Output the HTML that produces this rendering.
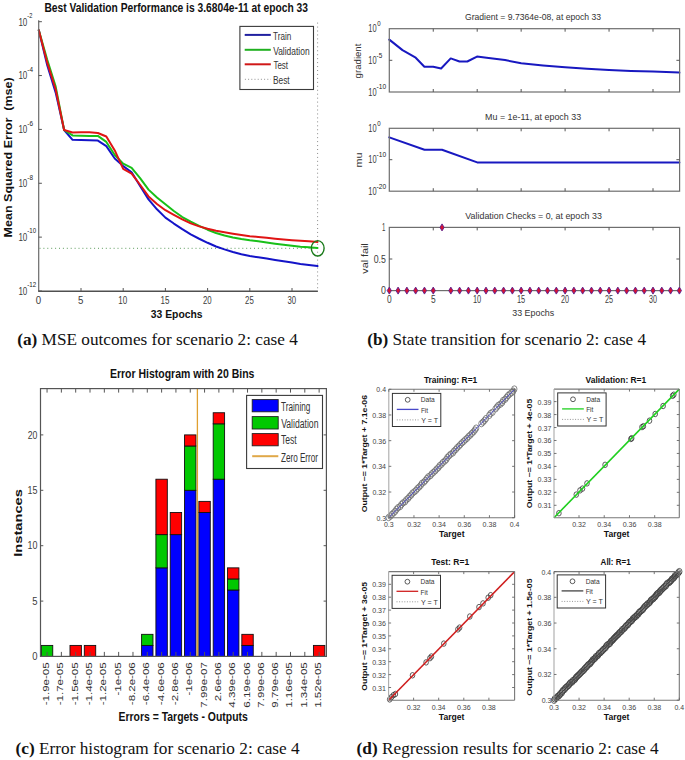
<!DOCTYPE html>
<html><head><meta charset="utf-8"><style>
html,body{margin:0;padding:0;background:#fff;}
body{width:685px;height:760px;overflow:hidden;}
svg{display:block;font-family:"Liberation Sans", sans-serif;}
</style></head><body>
<svg width="685" height="760" viewBox="0 0 685 760">
<rect width="685" height="760" fill="#fff"/>
<line x1="39.5" y1="248.3" x2="317.5" y2="248.3" stroke="#5a9a5a" stroke-width="1" stroke-dasharray="1 2.9"/>
<line x1="317.6" y1="22.6" x2="317.6" y2="291" stroke="#8a8a8a" stroke-width="1" stroke-dasharray="1 2.95"/>
<polyline points="38.8,30.3 47.24,65.16 55.68,92.62 64.12,130.02 72.56,139.81 81,140 89.44,140.19 97.88,140.59 106.32,146.19 114.76,158.46 123.2,166.12 131.64,172.3 140.08,186.03 148.52,199.37 156.96,209.29 165.4,217.59 173.84,223.55 182.28,229.2 190.72,234.4 199.16,238.76 207.6,242.78 216.04,246.46 224.48,249.42 232.92,252.06 241.36,254.31 249.8,256.04 258.24,257.25 266.68,258.58 275.12,259.95 283.56,261.29 292,262.61 300.44,263.93 308.88,265.01 317.5,266.1" fill="none" stroke="#1414c8" stroke-width="2" stroke-linejoin="round" stroke-linecap="round" />
<polyline points="38.8,30.3 47.24,59.79 55.68,86.67 64.12,130.02 72.56,135.44 81,135.66 89.44,135.89 97.88,135.9 106.32,141.93 114.76,155.04 123.2,163.62 131.64,167.79 140.08,178.07 148.52,189.62 156.96,197.42 165.4,204.26 173.84,210.96 182.28,217.05 190.72,221.66 199.16,225.9 207.6,229.7 216.04,233.01 224.48,235.54 232.92,237.42 241.36,238.96 249.8,240.25 258.24,241.29 266.68,242.45 275.12,243.65 283.56,244.75 292,245.7 300.44,246.65 308.88,247.32 317.5,248" fill="none" stroke="#18c018" stroke-width="2" stroke-linejoin="round" stroke-linecap="round" />
<polyline points="38.8,30.3 47.24,62.67 55.68,89.54 64.12,130.02 72.56,132.54 81,132.37 89.44,132.21 97.88,132.99 106.32,136.48 114.76,150.45 123.2,168.88 131.64,173.66 140.08,184.77 148.52,196.42 156.96,204.01 165.4,210.19 173.84,214.86 182.28,219.39 190.72,223.43 199.16,226.39 207.6,228.81 216.04,230.79 224.48,232.3 232.92,233.66 241.36,234.93 249.8,236.16 258.24,236.94 266.68,237.82 275.12,238.73 283.56,239.53 292,240.15 300.44,240.77 308.88,241.33 317.5,241.9" fill="none" stroke="#e01414" stroke-width="2" stroke-linejoin="round" stroke-linecap="round" />
<ellipse cx="317.7" cy="248.3" rx="6.4" ry="7.7" fill="none" stroke="#1a7a1a" stroke-width="1.4"/>
<line x1="38.7" y1="20.2" x2="38.7" y2="291.3" stroke="#6a6a6a" stroke-width="1.2" />
<line x1="38.2" y1="291.3" x2="317.9" y2="291.3" stroke="#505050" stroke-width="1.6" />
<line x1="38.7" y1="21.7" x2="41.9" y2="21.7" stroke="#555" stroke-width="1" />
<line x1="38.7" y1="75.56" x2="41.9" y2="75.56" stroke="#555" stroke-width="1" />
<line x1="38.7" y1="129.42" x2="41.9" y2="129.42" stroke="#555" stroke-width="1" />
<line x1="38.7" y1="183.28" x2="41.9" y2="183.28" stroke="#555" stroke-width="1" />
<line x1="38.7" y1="237.14" x2="41.9" y2="237.14" stroke="#555" stroke-width="1" />
<line x1="38.7" y1="291" x2="41.9" y2="291" stroke="#555" stroke-width="1" />
<line x1="81" y1="291.3" x2="81" y2="288" stroke="#555" stroke-width="1" />
<line x1="123.2" y1="291.3" x2="123.2" y2="288" stroke="#555" stroke-width="1" />
<line x1="165.4" y1="291.3" x2="165.4" y2="288" stroke="#555" stroke-width="1" />
<line x1="207.6" y1="291.3" x2="207.6" y2="288" stroke="#555" stroke-width="1" />
<line x1="249.8" y1="291.3" x2="249.8" y2="288" stroke="#555" stroke-width="1" />
<line x1="292" y1="291.3" x2="292" y2="288" stroke="#555" stroke-width="1" />
<text x="18.4" y="25.5" font-size="11.3" font-weight="normal" fill="#3c3c3c" textLength="8.94" lengthAdjust="spacingAndGlyphs" style="font-family:'Liberation Sans', sans-serif" >10</text>
<text x="27.35" y="18" font-size="7.8" font-weight="normal" fill="#222" textLength="5.03" lengthAdjust="spacingAndGlyphs" style="font-family:'Liberation Sans', sans-serif" >-2</text>
<text x="18.4" y="79.36" font-size="11.3" font-weight="normal" fill="#3c3c3c" textLength="8.94" lengthAdjust="spacingAndGlyphs" style="font-family:'Liberation Sans', sans-serif" >10</text>
<text x="27.31" y="71.86" font-size="7.8" font-weight="normal" fill="#222" textLength="5.67" lengthAdjust="spacingAndGlyphs" style="font-family:'Liberation Sans', sans-serif" >-4</text>
<text x="18.4" y="133.22" font-size="11.3" font-weight="normal" fill="#3c3c3c" textLength="8.94" lengthAdjust="spacingAndGlyphs" style="font-family:'Liberation Sans', sans-serif" >10</text>
<text x="27.31" y="125.72" font-size="7.8" font-weight="normal" fill="#222" textLength="5.67" lengthAdjust="spacingAndGlyphs" style="font-family:'Liberation Sans', sans-serif" >-6</text>
<text x="18.4" y="187.08" font-size="11.3" font-weight="normal" fill="#3c3c3c" textLength="8.94" lengthAdjust="spacingAndGlyphs" style="font-family:'Liberation Sans', sans-serif" >10</text>
<text x="27.31" y="179.58" font-size="7.8" font-weight="normal" fill="#222" textLength="5.63" lengthAdjust="spacingAndGlyphs" style="font-family:'Liberation Sans', sans-serif" >-8</text>
<text x="18.4" y="240.94" font-size="11.3" font-weight="normal" fill="#3c3c3c" textLength="8.94" lengthAdjust="spacingAndGlyphs" style="font-family:'Liberation Sans', sans-serif" >10</text>
<text x="27.33" y="233.44" font-size="7.8" font-weight="normal" fill="#222" textLength="8.82" lengthAdjust="spacingAndGlyphs" style="font-family:'Liberation Sans', sans-serif" >-10</text>
<text x="18.4" y="294.8" font-size="11.3" font-weight="normal" fill="#3c3c3c" textLength="8.94" lengthAdjust="spacingAndGlyphs" style="font-family:'Liberation Sans', sans-serif" >10</text>
<text x="27.32" y="287.3" font-size="7.8" font-weight="normal" fill="#222" textLength="8.89" lengthAdjust="spacingAndGlyphs" style="font-family:'Liberation Sans', sans-serif" >-12</text>
<text x="35.81" y="303.8" font-size="10.6" font-weight="normal" fill="#3c3c3c" textLength="5.39" lengthAdjust="spacingAndGlyphs" style="font-family:'Liberation Sans', sans-serif" >0</text>
<text x="78.01" y="303.8" font-size="10.6" font-weight="normal" fill="#3c3c3c" textLength="5.39" lengthAdjust="spacingAndGlyphs" style="font-family:'Liberation Sans', sans-serif" >5</text>
<text x="118.3" y="303.8" font-size="10.6" font-weight="normal" fill="#3c3c3c" textLength="8.94" lengthAdjust="spacingAndGlyphs" style="font-family:'Liberation Sans', sans-serif" >10</text>
<text x="160.5" y="303.8" font-size="10.6" font-weight="normal" fill="#3c3c3c" textLength="8.94" lengthAdjust="spacingAndGlyphs" style="font-family:'Liberation Sans', sans-serif" >15</text>
<text x="202.91" y="303.8" font-size="10.6" font-weight="normal" fill="#3c3c3c" textLength="8.72" lengthAdjust="spacingAndGlyphs" style="font-family:'Liberation Sans', sans-serif" >20</text>
<text x="245.11" y="303.8" font-size="10.6" font-weight="normal" fill="#3c3c3c" textLength="8.72" lengthAdjust="spacingAndGlyphs" style="font-family:'Liberation Sans', sans-serif" >25</text>
<text x="287.39" y="303.8" font-size="10.6" font-weight="normal" fill="#3c3c3c" textLength="8.64" lengthAdjust="spacingAndGlyphs" style="font-family:'Liberation Sans', sans-serif" >30</text>
<text x="44.43" y="11.7" font-size="12" font-weight="bold" fill="#111" textLength="263.52" lengthAdjust="spacingAndGlyphs" style="font-family:'Liberation Sans', sans-serif" >Best Validation Performance is 3.6804e-11 at epoch 33</text>
<text x="150.84" y="318.3" font-size="10.8" font-weight="bold" fill="#111" textLength="51.79" lengthAdjust="spacingAndGlyphs" style="font-family:'Liberation Sans', sans-serif" >33 Epochs</text>
<text transform="translate(11.8,236.6) scale(0.84,1) rotate(-90)" x="-0.81" y="0" font-size="12.2" font-weight="bold" fill="#111" textLength="160.1" lengthAdjust="spacingAndGlyphs">Mean Squared Error  (mse)</text>
<rect x="239.9" y="26.4" width="73.6" height="63.1" fill="#fff" stroke="#3a3a3a" stroke-width="1.1" />
<line x1="244.7" y1="34.9" x2="270.8" y2="34.9" stroke="#2020a0" stroke-width="2" />
<line x1="244.7" y1="49.8" x2="270.8" y2="49.8" stroke="#20b020" stroke-width="2" />
<line x1="244.7" y1="64.3" x2="270.8" y2="64.3" stroke="#d01818" stroke-width="2" />
<line x1="244.9" y1="79.3" x2="270.8" y2="79.3" stroke="#909090" stroke-width="1" stroke-dasharray="1 2.2"/>
<text x="273" y="39.6" font-size="10.6" font-weight="normal" fill="#333" textLength="18.24" lengthAdjust="spacingAndGlyphs" style="font-family:'Liberation Sans', sans-serif" >Train</text>
<text x="273.16" y="54.5" font-size="10.6" font-weight="normal" fill="#333" textLength="36.42" lengthAdjust="spacingAndGlyphs" style="font-family:'Liberation Sans', sans-serif" >Validation</text>
<text x="273.4" y="68.6" font-size="10.6" font-weight="normal" fill="#333" textLength="14.67" lengthAdjust="spacingAndGlyphs" style="font-family:'Liberation Sans', sans-serif" >Test</text>
<text x="272.93" y="83.6" font-size="10.6" font-weight="normal" fill="#333" textLength="16.72" lengthAdjust="spacingAndGlyphs" style="font-family:'Liberation Sans', sans-serif" >Best</text>
<polyline points="389.3,39.6 402.5,50.1 415.7,57.7 424.4,66.8 433.2,66.8 441.1,68.5 450.7,58.4 459.5,61.5 467.3,61.5 477,56.6 486.6,57.7 505,60.1 521.2,63.3 543,65.5 565.1,67.3 587,68.8 609,70 631,70.9 653,71.6 679.4,72.6" fill="none" stroke="#1818c0" stroke-width="2" stroke-linejoin="round" stroke-linecap="round" />
<polyline points="389.3,137.4 424.5,149.7 442,149.7 477.2,162.4 679.4,162.4" fill="none" stroke="#1818c0" stroke-width="2" stroke-linejoin="round" stroke-linecap="round" />
<rect x="389.3" y="28.7" width="290.3" height="63.3" fill="none" stroke="#6e6e6e" stroke-width="1.2" />
<line x1="433.25" y1="28.7" x2="433.25" y2="31.7" stroke="#555" stroke-width="1" />
<line x1="433.25" y1="92" x2="433.25" y2="89" stroke="#555" stroke-width="1" />
<line x1="477.2" y1="28.7" x2="477.2" y2="31.7" stroke="#555" stroke-width="1" />
<line x1="477.2" y1="92" x2="477.2" y2="89" stroke="#555" stroke-width="1" />
<line x1="521.15" y1="28.7" x2="521.15" y2="31.7" stroke="#555" stroke-width="1" />
<line x1="521.15" y1="92" x2="521.15" y2="89" stroke="#555" stroke-width="1" />
<line x1="565.1" y1="28.7" x2="565.1" y2="31.7" stroke="#555" stroke-width="1" />
<line x1="565.1" y1="92" x2="565.1" y2="89" stroke="#555" stroke-width="1" />
<line x1="609.05" y1="28.7" x2="609.05" y2="31.7" stroke="#555" stroke-width="1" />
<line x1="609.05" y1="92" x2="609.05" y2="89" stroke="#555" stroke-width="1" />
<line x1="653" y1="28.7" x2="653" y2="31.7" stroke="#555" stroke-width="1" />
<line x1="653" y1="92" x2="653" y2="89" stroke="#555" stroke-width="1" />
<line x1="389.3" y1="60.3" x2="392.3" y2="60.3" stroke="#555" stroke-width="1" />
<line x1="679.6" y1="60.3" x2="676.4" y2="60.3" stroke="#555" stroke-width="1" />
<rect x="389.3" y="128.3" width="290.3" height="62.9" fill="none" stroke="#6e6e6e" stroke-width="1.2" />
<line x1="433.25" y1="128.3" x2="433.25" y2="131.3" stroke="#555" stroke-width="1" />
<line x1="433.25" y1="191.2" x2="433.25" y2="188.2" stroke="#555" stroke-width="1" />
<line x1="477.2" y1="128.3" x2="477.2" y2="131.3" stroke="#555" stroke-width="1" />
<line x1="477.2" y1="191.2" x2="477.2" y2="188.2" stroke="#555" stroke-width="1" />
<line x1="521.15" y1="128.3" x2="521.15" y2="131.3" stroke="#555" stroke-width="1" />
<line x1="521.15" y1="191.2" x2="521.15" y2="188.2" stroke="#555" stroke-width="1" />
<line x1="565.1" y1="128.3" x2="565.1" y2="131.3" stroke="#555" stroke-width="1" />
<line x1="565.1" y1="191.2" x2="565.1" y2="188.2" stroke="#555" stroke-width="1" />
<line x1="609.05" y1="128.3" x2="609.05" y2="131.3" stroke="#555" stroke-width="1" />
<line x1="609.05" y1="191.2" x2="609.05" y2="188.2" stroke="#555" stroke-width="1" />
<line x1="653" y1="128.3" x2="653" y2="131.3" stroke="#555" stroke-width="1" />
<line x1="653" y1="191.2" x2="653" y2="188.2" stroke="#555" stroke-width="1" />
<line x1="389.3" y1="159.7" x2="392.3" y2="159.7" stroke="#555" stroke-width="1" />
<line x1="679.6" y1="159.7" x2="676.4" y2="159.7" stroke="#555" stroke-width="1" />
<rect x="389.3" y="227.4" width="290.3" height="63.2" fill="none" stroke="#6e6e6e" stroke-width="1.2" />
<line x1="433.25" y1="227.4" x2="433.25" y2="230.4" stroke="#555" stroke-width="1" />
<line x1="433.25" y1="290.6" x2="433.25" y2="287.6" stroke="#555" stroke-width="1" />
<line x1="477.2" y1="227.4" x2="477.2" y2="230.4" stroke="#555" stroke-width="1" />
<line x1="477.2" y1="290.6" x2="477.2" y2="287.6" stroke="#555" stroke-width="1" />
<line x1="521.15" y1="227.4" x2="521.15" y2="230.4" stroke="#555" stroke-width="1" />
<line x1="521.15" y1="290.6" x2="521.15" y2="287.6" stroke="#555" stroke-width="1" />
<line x1="565.1" y1="227.4" x2="565.1" y2="230.4" stroke="#555" stroke-width="1" />
<line x1="565.1" y1="290.6" x2="565.1" y2="287.6" stroke="#555" stroke-width="1" />
<line x1="609.05" y1="227.4" x2="609.05" y2="230.4" stroke="#555" stroke-width="1" />
<line x1="609.05" y1="290.6" x2="609.05" y2="287.6" stroke="#555" stroke-width="1" />
<line x1="653" y1="227.4" x2="653" y2="230.4" stroke="#555" stroke-width="1" />
<line x1="653" y1="290.6" x2="653" y2="287.6" stroke="#555" stroke-width="1" />
<line x1="389.3" y1="259" x2="392.3" y2="259" stroke="#555" stroke-width="1" />
<line x1="679.6" y1="259" x2="676.4" y2="259" stroke="#555" stroke-width="1" />
<path d="M389.3,287.1 L391.4,290.6 L389.3,294.1 L387.2,290.6 Z" fill="#d81030" stroke="#5a2090" stroke-width="0.9"/>
<path d="M398.09,287.1 L400.19,290.6 L398.09,294.1 L395.99,290.6 Z" fill="#d81030" stroke="#5a2090" stroke-width="0.9"/>
<path d="M406.88,287.1 L408.98,290.6 L406.88,294.1 L404.78,290.6 Z" fill="#d81030" stroke="#5a2090" stroke-width="0.9"/>
<path d="M415.67,287.1 L417.77,290.6 L415.67,294.1 L413.57,290.6 Z" fill="#d81030" stroke="#5a2090" stroke-width="0.9"/>
<path d="M424.46,287.1 L426.56,290.6 L424.46,294.1 L422.36,290.6 Z" fill="#d81030" stroke="#5a2090" stroke-width="0.9"/>
<path d="M433.25,287.1 L435.35,290.6 L433.25,294.1 L431.15,290.6 Z" fill="#d81030" stroke="#5a2090" stroke-width="0.9"/>
<path d="M442.04,223.9 L444.14,227.4 L442.04,230.9 L439.94,227.4 Z" fill="#d81030" stroke="#5a2090" stroke-width="0.9"/>
<path d="M450.83,287.1 L452.93,290.6 L450.83,294.1 L448.73,290.6 Z" fill="#d81030" stroke="#5a2090" stroke-width="0.9"/>
<path d="M459.62,287.1 L461.72,290.6 L459.62,294.1 L457.52,290.6 Z" fill="#d81030" stroke="#5a2090" stroke-width="0.9"/>
<path d="M468.41,287.1 L470.51,290.6 L468.41,294.1 L466.31,290.6 Z" fill="#d81030" stroke="#5a2090" stroke-width="0.9"/>
<path d="M477.2,287.1 L479.3,290.6 L477.2,294.1 L475.1,290.6 Z" fill="#d81030" stroke="#5a2090" stroke-width="0.9"/>
<path d="M485.99,287.1 L488.09,290.6 L485.99,294.1 L483.89,290.6 Z" fill="#d81030" stroke="#5a2090" stroke-width="0.9"/>
<path d="M494.78,287.1 L496.88,290.6 L494.78,294.1 L492.68,290.6 Z" fill="#d81030" stroke="#5a2090" stroke-width="0.9"/>
<path d="M503.57,287.1 L505.67,290.6 L503.57,294.1 L501.47,290.6 Z" fill="#d81030" stroke="#5a2090" stroke-width="0.9"/>
<path d="M512.36,287.1 L514.46,290.6 L512.36,294.1 L510.26,290.6 Z" fill="#d81030" stroke="#5a2090" stroke-width="0.9"/>
<path d="M521.15,287.1 L523.25,290.6 L521.15,294.1 L519.05,290.6 Z" fill="#d81030" stroke="#5a2090" stroke-width="0.9"/>
<path d="M529.94,287.1 L532.04,290.6 L529.94,294.1 L527.84,290.6 Z" fill="#d81030" stroke="#5a2090" stroke-width="0.9"/>
<path d="M538.73,287.1 L540.83,290.6 L538.73,294.1 L536.63,290.6 Z" fill="#d81030" stroke="#5a2090" stroke-width="0.9"/>
<path d="M547.52,287.1 L549.62,290.6 L547.52,294.1 L545.42,290.6 Z" fill="#d81030" stroke="#5a2090" stroke-width="0.9"/>
<path d="M556.31,287.1 L558.41,290.6 L556.31,294.1 L554.21,290.6 Z" fill="#d81030" stroke="#5a2090" stroke-width="0.9"/>
<path d="M565.1,287.1 L567.2,290.6 L565.1,294.1 L563,290.6 Z" fill="#d81030" stroke="#5a2090" stroke-width="0.9"/>
<path d="M573.89,287.1 L575.99,290.6 L573.89,294.1 L571.79,290.6 Z" fill="#d81030" stroke="#5a2090" stroke-width="0.9"/>
<path d="M582.68,287.1 L584.78,290.6 L582.68,294.1 L580.58,290.6 Z" fill="#d81030" stroke="#5a2090" stroke-width="0.9"/>
<path d="M591.47,287.1 L593.57,290.6 L591.47,294.1 L589.37,290.6 Z" fill="#d81030" stroke="#5a2090" stroke-width="0.9"/>
<path d="M600.26,287.1 L602.36,290.6 L600.26,294.1 L598.16,290.6 Z" fill="#d81030" stroke="#5a2090" stroke-width="0.9"/>
<path d="M609.05,287.1 L611.15,290.6 L609.05,294.1 L606.95,290.6 Z" fill="#d81030" stroke="#5a2090" stroke-width="0.9"/>
<path d="M617.84,287.1 L619.94,290.6 L617.84,294.1 L615.74,290.6 Z" fill="#d81030" stroke="#5a2090" stroke-width="0.9"/>
<path d="M626.63,287.1 L628.73,290.6 L626.63,294.1 L624.53,290.6 Z" fill="#d81030" stroke="#5a2090" stroke-width="0.9"/>
<path d="M635.42,287.1 L637.52,290.6 L635.42,294.1 L633.32,290.6 Z" fill="#d81030" stroke="#5a2090" stroke-width="0.9"/>
<path d="M644.21,287.1 L646.31,290.6 L644.21,294.1 L642.11,290.6 Z" fill="#d81030" stroke="#5a2090" stroke-width="0.9"/>
<path d="M653,287.1 L655.1,290.6 L653,294.1 L650.9,290.6 Z" fill="#d81030" stroke="#5a2090" stroke-width="0.9"/>
<path d="M661.79,287.1 L663.89,290.6 L661.79,294.1 L659.69,290.6 Z" fill="#d81030" stroke="#5a2090" stroke-width="0.9"/>
<path d="M670.58,287.1 L672.68,290.6 L670.58,294.1 L668.48,290.6 Z" fill="#d81030" stroke="#5a2090" stroke-width="0.9"/>
<path d="M679.37,287.1 L681.47,290.6 L679.37,294.1 L677.27,290.6 Z" fill="#d81030" stroke="#5a2090" stroke-width="0.9"/>
<text x="368.34" y="32.4" font-size="10.2" font-weight="normal" fill="#3c3c3c" textLength="8.27" lengthAdjust="spacingAndGlyphs" style="font-family:'Liberation Sans', sans-serif" >10</text>
<text x="377.16" y="26" font-size="7.2" font-weight="normal" fill="#222" textLength="3.4" lengthAdjust="spacingAndGlyphs" style="font-family:'Liberation Sans', sans-serif" >0</text>
<text x="368.34" y="64" font-size="10.2" font-weight="normal" fill="#3c3c3c" textLength="8.27" lengthAdjust="spacingAndGlyphs" style="font-family:'Liberation Sans', sans-serif" >10</text>
<text x="376.61" y="57.6" font-size="7.2" font-weight="normal" fill="#222" textLength="5.63" lengthAdjust="spacingAndGlyphs" style="font-family:'Liberation Sans', sans-serif" >-5</text>
<text x="368.34" y="95.7" font-size="10.2" font-weight="normal" fill="#3c3c3c" textLength="8.27" lengthAdjust="spacingAndGlyphs" style="font-family:'Liberation Sans', sans-serif" >10</text>
<text x="376.6" y="89.3" font-size="7.2" font-weight="normal" fill="#222" textLength="9.57" lengthAdjust="spacingAndGlyphs" style="font-family:'Liberation Sans', sans-serif" >-10</text>
<text x="368.34" y="132" font-size="10.2" font-weight="normal" fill="#3c3c3c" textLength="8.27" lengthAdjust="spacingAndGlyphs" style="font-family:'Liberation Sans', sans-serif" >10</text>
<text x="377.16" y="125.6" font-size="7.2" font-weight="normal" fill="#222" textLength="3.4" lengthAdjust="spacingAndGlyphs" style="font-family:'Liberation Sans', sans-serif" >0</text>
<text x="368.34" y="163.4" font-size="10.2" font-weight="normal" fill="#3c3c3c" textLength="8.27" lengthAdjust="spacingAndGlyphs" style="font-family:'Liberation Sans', sans-serif" >10</text>
<text x="376.6" y="157" font-size="7.2" font-weight="normal" fill="#222" textLength="9.57" lengthAdjust="spacingAndGlyphs" style="font-family:'Liberation Sans', sans-serif" >-10</text>
<text x="368.34" y="194.9" font-size="10.2" font-weight="normal" fill="#3c3c3c" textLength="8.27" lengthAdjust="spacingAndGlyphs" style="font-family:'Liberation Sans', sans-serif" >10</text>
<text x="376.6" y="188.5" font-size="7.2" font-weight="normal" fill="#222" textLength="9.57" lengthAdjust="spacingAndGlyphs" style="font-family:'Liberation Sans', sans-serif" >-20</text>
<text x="382.05" y="230.9" font-size="10.2" font-weight="normal" fill="#3c3c3c" textLength="3.36" lengthAdjust="spacingAndGlyphs" style="font-family:'Liberation Sans', sans-serif" >1</text>
<text x="373.65" y="262.8" font-size="10.2" font-weight="normal" fill="#3c3c3c" textLength="12.2" lengthAdjust="spacingAndGlyphs" style="font-family:'Liberation Sans', sans-serif" >0.5</text>
<text x="380.95" y="294.3" font-size="10.2" font-weight="normal" fill="#3c3c3c" textLength="4.92" lengthAdjust="spacingAndGlyphs" style="font-family:'Liberation Sans', sans-serif" >0</text>
<text x="386.96" y="302.5" font-size="10.2" font-weight="normal" fill="#3c3c3c" textLength="4.68" lengthAdjust="spacingAndGlyphs" style="font-family:'Liberation Sans', sans-serif" >0</text>
<text x="430.91" y="302.5" font-size="10.2" font-weight="normal" fill="#3c3c3c" textLength="4.68" lengthAdjust="spacingAndGlyphs" style="font-family:'Liberation Sans', sans-serif" >5</text>
<text x="472.94" y="302.5" font-size="10.2" font-weight="normal" fill="#3c3c3c" textLength="8.27" lengthAdjust="spacingAndGlyphs" style="font-family:'Liberation Sans', sans-serif" >10</text>
<text x="516.89" y="302.5" font-size="10.2" font-weight="normal" fill="#3c3c3c" textLength="8.27" lengthAdjust="spacingAndGlyphs" style="font-family:'Liberation Sans', sans-serif" >15</text>
<text x="561.04" y="302.5" font-size="10.2" font-weight="normal" fill="#3c3c3c" textLength="8.07" lengthAdjust="spacingAndGlyphs" style="font-family:'Liberation Sans', sans-serif" >20</text>
<text x="604.99" y="302.5" font-size="10.2" font-weight="normal" fill="#3c3c3c" textLength="8.07" lengthAdjust="spacingAndGlyphs" style="font-family:'Liberation Sans', sans-serif" >25</text>
<text x="649.01" y="302.5" font-size="10.2" font-weight="normal" fill="#3c3c3c" textLength="7.99" lengthAdjust="spacingAndGlyphs" style="font-family:'Liberation Sans', sans-serif" >30</text>
<text x="464.97" y="20.4" font-size="9.8" font-weight="normal" fill="#333" textLength="136.14" lengthAdjust="spacingAndGlyphs" style="font-family:'Liberation Sans', sans-serif" >Gradient = 9.7364e-08, at epoch 33</text>
<text x="485.09" y="119.7" font-size="9.8" font-weight="normal" fill="#333" textLength="96.01" lengthAdjust="spacingAndGlyphs" style="font-family:'Liberation Sans', sans-serif" >Mu = 1e-11, at epoch 33</text>
<text x="465.36" y="219.3" font-size="9.8" font-weight="normal" fill="#333" textLength="136.47" lengthAdjust="spacingAndGlyphs" style="font-family:'Liberation Sans', sans-serif" >Validation Checks = 0, at epoch 33</text>
<text x="512.24" y="315.8" font-size="9.8" font-weight="normal" fill="#333" textLength="41.97" lengthAdjust="spacingAndGlyphs" style="font-family:'Liberation Sans', sans-serif" >33 Epochs</text>
<text transform="translate(361.3,78) scale(0.9,1) rotate(-90)" x="-0.38" y="0" font-size="9.8" font-weight="normal" fill="#333" textLength="34.77" lengthAdjust="spacingAndGlyphs">gradient</text>
<text transform="translate(361.6,166.8) scale(0.9,1) rotate(-90)" x="-0.7" y="0" font-size="9.8" font-weight="normal" fill="#333" textLength="14.99" lengthAdjust="spacingAndGlyphs">mu</text>
<text transform="translate(367.8,273.6) scale(0.9,1) rotate(-90)" x="-0.05" y="0" font-size="9.8" font-weight="normal" fill="#333" textLength="30.4" lengthAdjust="spacingAndGlyphs">val fail</text>
<rect x="41.35" y="645.42" width="11.4" height="11.08" fill="#00c800" stroke="#101010" stroke-width="0.9" />
<rect x="69.99" y="645.42" width="11.4" height="11.08" fill="#ff0000" stroke="#101010" stroke-width="0.9" />
<rect x="84.31" y="645.42" width="11.4" height="11.08" fill="#ff0000" stroke="#101010" stroke-width="0.9" />
<rect x="141.59" y="645.42" width="11.4" height="11.08" fill="#0000ff" stroke="#101010" stroke-width="0.9" />
<rect x="141.59" y="634.34" width="11.4" height="11.08" fill="#00c800" stroke="#101010" stroke-width="0.9" />
<rect x="155.91" y="567.86" width="11.4" height="88.64" fill="#0000ff" stroke="#101010" stroke-width="0.9" />
<rect x="155.91" y="534.62" width="11.4" height="33.24" fill="#00c800" stroke="#101010" stroke-width="0.9" />
<rect x="155.91" y="479.22" width="11.4" height="55.4" fill="#ff0000" stroke="#101010" stroke-width="0.9" />
<rect x="170.23" y="534.62" width="11.4" height="121.88" fill="#0000ff" stroke="#101010" stroke-width="0.9" />
<rect x="170.23" y="512.46" width="11.4" height="22.16" fill="#ff0000" stroke="#101010" stroke-width="0.9" />
<rect x="184.55" y="490.3" width="11.4" height="166.2" fill="#0000ff" stroke="#101010" stroke-width="0.9" />
<rect x="184.55" y="445.98" width="11.4" height="44.32" fill="#00c800" stroke="#101010" stroke-width="0.9" />
<rect x="184.55" y="434.9" width="11.4" height="11.08" fill="#ff0000" stroke="#101010" stroke-width="0.9" />
<rect x="198.87" y="512.46" width="11.4" height="144.04" fill="#0000ff" stroke="#101010" stroke-width="0.9" />
<rect x="198.87" y="501.38" width="11.4" height="11.08" fill="#ff0000" stroke="#101010" stroke-width="0.9" />
<rect x="213.19" y="479.22" width="11.4" height="177.28" fill="#0000ff" stroke="#101010" stroke-width="0.9" />
<rect x="213.19" y="423.82" width="11.4" height="55.4" fill="#00c800" stroke="#101010" stroke-width="0.9" />
<rect x="213.19" y="412.74" width="11.4" height="11.08" fill="#ff0000" stroke="#101010" stroke-width="0.9" />
<rect x="227.51" y="590.02" width="11.4" height="66.48" fill="#0000ff" stroke="#101010" stroke-width="0.9" />
<rect x="227.51" y="578.94" width="11.4" height="11.08" fill="#00c800" stroke="#101010" stroke-width="0.9" />
<rect x="227.51" y="567.86" width="11.4" height="11.08" fill="#ff0000" stroke="#101010" stroke-width="0.9" />
<rect x="241.83" y="645.42" width="11.4" height="11.08" fill="#0000ff" stroke="#101010" stroke-width="0.9" />
<rect x="241.83" y="634.34" width="11.4" height="11.08" fill="#ff0000" stroke="#101010" stroke-width="0.9" />
<rect x="313.43" y="645.42" width="11.4" height="11.08" fill="#ff0000" stroke="#101010" stroke-width="0.9" />
<line x1="197.4" y1="388.6" x2="197.4" y2="656.4" stroke="#e0a030" stroke-width="1.3" />
<rect x="40.5" y="388.6" width="285.9" height="267.8" fill="none" stroke="#555" stroke-width="1.2" />
<line x1="47.05" y1="388.6" x2="47.05" y2="392.6" stroke="#555" stroke-width="1" />
<line x1="47.05" y1="656.4" x2="47.05" y2="651.9" stroke="#555" stroke-width="1" />
<line x1="61.37" y1="388.6" x2="61.37" y2="392.6" stroke="#555" stroke-width="1" />
<line x1="61.37" y1="656.4" x2="61.37" y2="651.9" stroke="#555" stroke-width="1" />
<line x1="75.69" y1="388.6" x2="75.69" y2="392.6" stroke="#555" stroke-width="1" />
<line x1="75.69" y1="656.4" x2="75.69" y2="651.9" stroke="#555" stroke-width="1" />
<line x1="90.01" y1="388.6" x2="90.01" y2="392.6" stroke="#555" stroke-width="1" />
<line x1="90.01" y1="656.4" x2="90.01" y2="651.9" stroke="#555" stroke-width="1" />
<line x1="104.33" y1="388.6" x2="104.33" y2="392.6" stroke="#555" stroke-width="1" />
<line x1="104.33" y1="656.4" x2="104.33" y2="651.9" stroke="#555" stroke-width="1" />
<line x1="118.65" y1="388.6" x2="118.65" y2="392.6" stroke="#555" stroke-width="1" />
<line x1="118.65" y1="656.4" x2="118.65" y2="651.9" stroke="#555" stroke-width="1" />
<line x1="132.97" y1="388.6" x2="132.97" y2="392.6" stroke="#555" stroke-width="1" />
<line x1="132.97" y1="656.4" x2="132.97" y2="651.9" stroke="#555" stroke-width="1" />
<line x1="147.29" y1="388.6" x2="147.29" y2="392.6" stroke="#555" stroke-width="1" />
<line x1="147.29" y1="656.4" x2="147.29" y2="651.9" stroke="#555" stroke-width="1" />
<line x1="161.61" y1="388.6" x2="161.61" y2="392.6" stroke="#555" stroke-width="1" />
<line x1="161.61" y1="656.4" x2="161.61" y2="651.9" stroke="#555" stroke-width="1" />
<line x1="175.93" y1="388.6" x2="175.93" y2="392.6" stroke="#555" stroke-width="1" />
<line x1="175.93" y1="656.4" x2="175.93" y2="651.9" stroke="#555" stroke-width="1" />
<line x1="190.25" y1="388.6" x2="190.25" y2="392.6" stroke="#555" stroke-width="1" />
<line x1="190.25" y1="656.4" x2="190.25" y2="651.9" stroke="#555" stroke-width="1" />
<line x1="204.57" y1="388.6" x2="204.57" y2="392.6" stroke="#555" stroke-width="1" />
<line x1="204.57" y1="656.4" x2="204.57" y2="651.9" stroke="#555" stroke-width="1" />
<line x1="218.89" y1="388.6" x2="218.89" y2="392.6" stroke="#555" stroke-width="1" />
<line x1="218.89" y1="656.4" x2="218.89" y2="651.9" stroke="#555" stroke-width="1" />
<line x1="233.21" y1="388.6" x2="233.21" y2="392.6" stroke="#555" stroke-width="1" />
<line x1="233.21" y1="656.4" x2="233.21" y2="651.9" stroke="#555" stroke-width="1" />
<line x1="247.53" y1="388.6" x2="247.53" y2="392.6" stroke="#555" stroke-width="1" />
<line x1="247.53" y1="656.4" x2="247.53" y2="651.9" stroke="#555" stroke-width="1" />
<line x1="261.85" y1="388.6" x2="261.85" y2="392.6" stroke="#555" stroke-width="1" />
<line x1="261.85" y1="656.4" x2="261.85" y2="651.9" stroke="#555" stroke-width="1" />
<line x1="276.17" y1="388.6" x2="276.17" y2="392.6" stroke="#555" stroke-width="1" />
<line x1="276.17" y1="656.4" x2="276.17" y2="651.9" stroke="#555" stroke-width="1" />
<line x1="290.49" y1="388.6" x2="290.49" y2="392.6" stroke="#555" stroke-width="1" />
<line x1="290.49" y1="656.4" x2="290.49" y2="651.9" stroke="#555" stroke-width="1" />
<line x1="304.81" y1="388.6" x2="304.81" y2="392.6" stroke="#555" stroke-width="1" />
<line x1="304.81" y1="656.4" x2="304.81" y2="651.9" stroke="#555" stroke-width="1" />
<line x1="319.13" y1="388.6" x2="319.13" y2="392.6" stroke="#555" stroke-width="1" />
<line x1="319.13" y1="656.4" x2="319.13" y2="651.9" stroke="#555" stroke-width="1" />
<line x1="40.5" y1="656.5" x2="43.3" y2="656.5" stroke="#555" stroke-width="1" />
<line x1="326.4" y1="656.5" x2="323.6" y2="656.5" stroke="#555" stroke-width="1" />
<line x1="40.5" y1="601.1" x2="43.3" y2="601.1" stroke="#555" stroke-width="1" />
<line x1="326.4" y1="601.1" x2="323.6" y2="601.1" stroke="#555" stroke-width="1" />
<line x1="40.5" y1="545.7" x2="43.3" y2="545.7" stroke="#555" stroke-width="1" />
<line x1="326.4" y1="545.7" x2="323.6" y2="545.7" stroke="#555" stroke-width="1" />
<line x1="40.5" y1="490.3" x2="43.3" y2="490.3" stroke="#555" stroke-width="1" />
<line x1="326.4" y1="490.3" x2="323.6" y2="490.3" stroke="#555" stroke-width="1" />
<line x1="40.5" y1="434.9" x2="43.3" y2="434.9" stroke="#555" stroke-width="1" />
<line x1="326.4" y1="434.9" x2="323.6" y2="434.9" stroke="#555" stroke-width="1" />
<text x="32.22" y="660.1" font-size="11" font-weight="normal" fill="#3c3c3c" textLength="5.27" lengthAdjust="spacingAndGlyphs" style="font-family:'Liberation Sans', sans-serif" >0</text>
<text x="32.22" y="604.7" font-size="11" font-weight="normal" fill="#3c3c3c" textLength="5.27" lengthAdjust="spacingAndGlyphs" style="font-family:'Liberation Sans', sans-serif" >5</text>
<text x="27.53" y="549.3" font-size="11" font-weight="normal" fill="#3c3c3c" textLength="9.95" lengthAdjust="spacingAndGlyphs" style="font-family:'Liberation Sans', sans-serif" >10</text>
<text x="27.53" y="493.9" font-size="11" font-weight="normal" fill="#3c3c3c" textLength="9.95" lengthAdjust="spacingAndGlyphs" style="font-family:'Liberation Sans', sans-serif" >15</text>
<text x="27.76" y="438.5" font-size="11" font-weight="normal" fill="#3c3c3c" textLength="9.71" lengthAdjust="spacingAndGlyphs" style="font-family:'Liberation Sans', sans-serif" >20</text>
<text transform="translate(49.05,662.8) scale(0.8,1) rotate(-90)" x="-42.42" y="0" font-size="11.5" fill="#333" textLength="42.88" lengthAdjust="spacingAndGlyphs">-1.9e-05</text>
<text transform="translate(63.37,662.8) scale(0.8,1) rotate(-90)" x="-42.42" y="0" font-size="11.5" fill="#333" textLength="42.88" lengthAdjust="spacingAndGlyphs">-1.7e-05</text>
<text transform="translate(77.69,662.8) scale(0.8,1) rotate(-90)" x="-42.42" y="0" font-size="11.5" fill="#333" textLength="42.88" lengthAdjust="spacingAndGlyphs">-1.5e-05</text>
<text transform="translate(92.01,662.8) scale(0.8,1) rotate(-90)" x="-42.42" y="0" font-size="11.5" fill="#333" textLength="42.88" lengthAdjust="spacingAndGlyphs">-1.4e-05</text>
<text transform="translate(106.33,662.8) scale(0.8,1) rotate(-90)" x="-42.42" y="0" font-size="11.5" fill="#333" textLength="42.88" lengthAdjust="spacingAndGlyphs">-1.2e-05</text>
<text transform="translate(120.65,662.8) scale(0.8,1) rotate(-90)" x="-32.81" y="0" font-size="11.5" fill="#333" textLength="33.28" lengthAdjust="spacingAndGlyphs">-1e-05</text>
<text transform="translate(134.97,662.8) scale(0.8,1) rotate(-90)" x="-42.36" y="0" font-size="11.5" fill="#333" textLength="42.88" lengthAdjust="spacingAndGlyphs">-8.2e-06</text>
<text transform="translate(149.29,662.8) scale(0.8,1) rotate(-90)" x="-42.36" y="0" font-size="11.5" fill="#333" textLength="42.88" lengthAdjust="spacingAndGlyphs">-6.4e-06</text>
<text transform="translate(163.61,662.8) scale(0.8,1) rotate(-90)" x="-42.36" y="0" font-size="11.5" fill="#333" textLength="42.88" lengthAdjust="spacingAndGlyphs">-4.6e-06</text>
<text transform="translate(177.93,662.8) scale(0.8,1) rotate(-90)" x="-42.36" y="0" font-size="11.5" fill="#333" textLength="42.88" lengthAdjust="spacingAndGlyphs">-2.8e-06</text>
<text transform="translate(192.25,662.8) scale(0.8,1) rotate(-90)" x="-32.75" y="0" font-size="11.5" fill="#333" textLength="33.28" lengthAdjust="spacingAndGlyphs">-1e-06</text>
<text transform="translate(206.57,662.8) scale(0.8,1) rotate(-90)" x="-44.84" y="0" font-size="11.5" fill="#333" textLength="45.44" lengthAdjust="spacingAndGlyphs">7.99e-07</text>
<text transform="translate(220.89,662.8) scale(0.8,1) rotate(-90)" x="-38.5" y="0" font-size="11.5" fill="#333" textLength="39.04" lengthAdjust="spacingAndGlyphs">2.6e-06</text>
<text transform="translate(235.21,662.8) scale(0.8,1) rotate(-90)" x="-44.89" y="0" font-size="11.5" fill="#333" textLength="45.44" lengthAdjust="spacingAndGlyphs">4.39e-06</text>
<text transform="translate(249.53,662.8) scale(0.8,1) rotate(-90)" x="-44.89" y="0" font-size="11.5" fill="#333" textLength="45.44" lengthAdjust="spacingAndGlyphs">6.19e-06</text>
<text transform="translate(263.85,662.8) scale(0.8,1) rotate(-90)" x="-44.89" y="0" font-size="11.5" fill="#333" textLength="45.44" lengthAdjust="spacingAndGlyphs">7.99e-06</text>
<text transform="translate(278.17,662.8) scale(0.8,1) rotate(-90)" x="-44.89" y="0" font-size="11.5" fill="#333" textLength="45.44" lengthAdjust="spacingAndGlyphs">9.79e-06</text>
<text transform="translate(292.49,662.8) scale(0.8,1) rotate(-90)" x="-44.95" y="0" font-size="11.5" fill="#333" textLength="45.44" lengthAdjust="spacingAndGlyphs">1.16e-05</text>
<text transform="translate(306.81,662.8) scale(0.8,1) rotate(-90)" x="-44.95" y="0" font-size="11.5" fill="#333" textLength="45.44" lengthAdjust="spacingAndGlyphs">1.34e-05</text>
<text transform="translate(321.13,662.8) scale(0.8,1) rotate(-90)" x="-44.95" y="0" font-size="11.5" fill="#333" textLength="45.44" lengthAdjust="spacingAndGlyphs">1.52e-05</text>
<text x="109.92" y="378" font-size="13" font-weight="bold" fill="#111" textLength="144.51" lengthAdjust="spacingAndGlyphs" style="font-family:'Liberation Sans', sans-serif" >Error Histogram with 20 Bins</text>
<text x="118.52" y="720.9" font-size="13.2" font-weight="bold" fill="#111" textLength="129.3" lengthAdjust="spacingAndGlyphs" style="font-family:'Liberation Sans', sans-serif" >Errors = Targets - Outputs</text>
<text transform="translate(21.5,555.9) scale(0.8,1) rotate(-90)" x="-0.96" y="0" font-size="12.5" font-weight="bold" fill="#111" textLength="67.79" lengthAdjust="spacingAndGlyphs">Instances</text>
<rect x="246.6" y="395.4" width="75.9" height="73.1" fill="#fff" stroke="#3a3a3a" stroke-width="1.1" />
<rect x="252.2" y="399.6" width="26" height="12.2" fill="#0000ff" stroke="#202020" stroke-width="0.9" />
<rect x="252.2" y="416.6" width="26" height="12.4" fill="#00c800" stroke="#202020" stroke-width="0.9" />
<rect x="252.2" y="433.6" width="26" height="12.2" fill="#ff0000" stroke="#202020" stroke-width="0.9" />
<line x1="252.2" y1="456.2" x2="278.3" y2="456.2" stroke="#e0a848" stroke-width="2" />
<text x="280.99" y="410.8" font-size="12" font-weight="normal" fill="#333" textLength="29.35" lengthAdjust="spacingAndGlyphs" style="font-family:'Liberation Sans', sans-serif" >Training</text>
<text x="281.16" y="427.8" font-size="12" font-weight="normal" fill="#333" textLength="37.33" lengthAdjust="spacingAndGlyphs" style="font-family:'Liberation Sans', sans-serif" >Validation</text>
<text x="280.98" y="444.4" font-size="12" font-weight="normal" fill="#333" textLength="15.79" lengthAdjust="spacingAndGlyphs" style="font-family:'Liberation Sans', sans-serif" >Test</text>
<text x="280.96" y="461.9" font-size="12" font-weight="normal" fill="#333" textLength="37.08" lengthAdjust="spacingAndGlyphs" style="font-family:'Liberation Sans', sans-serif" >Zero Error</text>
<line x1="388.8" y1="517.7" x2="514.6" y2="389.3" stroke="#999" stroke-width="0.8" stroke-dasharray="1 1.6"/>
<ellipse cx="388.64" cy="517.54" rx="2.67" ry="3.19" fill="none" stroke="#6a6a6a" stroke-width="0.8"/>
<ellipse cx="390.42" cy="516.1" rx="2.67" ry="3.19" fill="none" stroke="#6a6a6a" stroke-width="0.8"/>
<ellipse cx="391.91" cy="514.37" rx="2.67" ry="3.19" fill="none" stroke="#6a6a6a" stroke-width="0.8"/>
<ellipse cx="393.64" cy="512.89" rx="2.67" ry="3.19" fill="none" stroke="#6a6a6a" stroke-width="0.8"/>
<ellipse cx="395.25" cy="511.27" rx="2.67" ry="3.19" fill="none" stroke="#6a6a6a" stroke-width="0.8"/>
<ellipse cx="396.5" cy="509.31" rx="2.67" ry="3.19" fill="none" stroke="#6a6a6a" stroke-width="0.8"/>
<ellipse cx="398.06" cy="507.66" rx="2.67" ry="3.19" fill="none" stroke="#6a6a6a" stroke-width="0.8"/>
<ellipse cx="400.15" cy="506.53" rx="2.67" ry="3.19" fill="none" stroke="#6a6a6a" stroke-width="0.8"/>
<ellipse cx="401.39" cy="504.55" rx="2.67" ry="3.19" fill="none" stroke="#6a6a6a" stroke-width="0.8"/>
<ellipse cx="402.97" cy="502.91" rx="2.67" ry="3.19" fill="none" stroke="#6a6a6a" stroke-width="0.8"/>
<ellipse cx="405.02" cy="501.74" rx="2.67" ry="3.19" fill="none" stroke="#6a6a6a" stroke-width="0.8"/>
<ellipse cx="406.3" cy="499.8" rx="2.67" ry="3.19" fill="none" stroke="#6a6a6a" stroke-width="0.8"/>
<ellipse cx="408.11" cy="498.4" rx="2.67" ry="3.19" fill="none" stroke="#6a6a6a" stroke-width="0.8"/>
<ellipse cx="409.49" cy="496.56" rx="2.67" ry="3.19" fill="none" stroke="#6a6a6a" stroke-width="0.8"/>
<ellipse cx="411.18" cy="495.03" rx="2.67" ry="3.19" fill="none" stroke="#6a6a6a" stroke-width="0.8"/>
<ellipse cx="412.48" cy="493.11" rx="2.67" ry="3.19" fill="none" stroke="#6a6a6a" stroke-width="0.8"/>
<ellipse cx="414.36" cy="491.78" rx="2.67" ry="3.19" fill="none" stroke="#6a6a6a" stroke-width="0.8"/>
<ellipse cx="416.09" cy="490.29" rx="2.67" ry="3.19" fill="none" stroke="#6a6a6a" stroke-width="0.8"/>
<ellipse cx="417.48" cy="488.46" rx="2.67" ry="3.19" fill="none" stroke="#6a6a6a" stroke-width="0.8"/>
<ellipse cx="419.2" cy="486.96" rx="2.67" ry="3.19" fill="none" stroke="#6a6a6a" stroke-width="0.8"/>
<ellipse cx="420.75" cy="485.3" rx="2.67" ry="3.19" fill="none" stroke="#6a6a6a" stroke-width="0.8"/>
<ellipse cx="421.98" cy="483.31" rx="2.67" ry="3.19" fill="none" stroke="#6a6a6a" stroke-width="0.8"/>
<ellipse cx="423.99" cy="482.1" rx="2.67" ry="3.19" fill="none" stroke="#6a6a6a" stroke-width="0.8"/>
<ellipse cx="425.48" cy="480.37" rx="2.67" ry="3.19" fill="none" stroke="#6a6a6a" stroke-width="0.8"/>
<ellipse cx="426.9" cy="478.57" rx="2.67" ry="3.19" fill="none" stroke="#6a6a6a" stroke-width="0.8"/>
<ellipse cx="428.33" cy="476.79" rx="2.67" ry="3.19" fill="none" stroke="#6a6a6a" stroke-width="0.8"/>
<ellipse cx="430.42" cy="475.66" rx="2.67" ry="3.19" fill="none" stroke="#6a6a6a" stroke-width="0.8"/>
<ellipse cx="431.78" cy="473.8" rx="2.67" ry="3.19" fill="none" stroke="#6a6a6a" stroke-width="0.8"/>
<ellipse cx="433.52" cy="472.32" rx="2.67" ry="3.19" fill="none" stroke="#6a6a6a" stroke-width="0.8"/>
<ellipse cx="435.21" cy="470.79" rx="2.67" ry="3.19" fill="none" stroke="#6a6a6a" stroke-width="0.8"/>
<ellipse cx="436.7" cy="469.07" rx="2.67" ry="3.19" fill="none" stroke="#6a6a6a" stroke-width="0.8"/>
<ellipse cx="438.42" cy="467.57" rx="2.67" ry="3.19" fill="none" stroke="#6a6a6a" stroke-width="0.8"/>
<ellipse cx="439.69" cy="465.63" rx="2.67" ry="3.19" fill="none" stroke="#6a6a6a" stroke-width="0.8"/>
<ellipse cx="441.53" cy="464.25" rx="2.67" ry="3.19" fill="none" stroke="#6a6a6a" stroke-width="0.8"/>
<ellipse cx="442.91" cy="462.41" rx="2.67" ry="3.19" fill="none" stroke="#6a6a6a" stroke-width="0.8"/>
<ellipse cx="444.8" cy="461.08" rx="2.67" ry="3.19" fill="none" stroke="#6a6a6a" stroke-width="0.8"/>
<ellipse cx="446.35" cy="459.42" rx="2.67" ry="3.19" fill="none" stroke="#6a6a6a" stroke-width="0.8"/>
<ellipse cx="447.48" cy="457.32" rx="2.67" ry="3.19" fill="none" stroke="#6a6a6a" stroke-width="0.8"/>
<ellipse cx="449.09" cy="455.72" rx="2.67" ry="3.19" fill="none" stroke="#6a6a6a" stroke-width="0.8"/>
<ellipse cx="450.73" cy="454.14" rx="2.67" ry="3.19" fill="none" stroke="#6a6a6a" stroke-width="0.8"/>
<ellipse cx="452.78" cy="452.97" rx="2.67" ry="3.19" fill="none" stroke="#6a6a6a" stroke-width="0.8"/>
<ellipse cx="454.05" cy="451.02" rx="2.67" ry="3.19" fill="none" stroke="#6a6a6a" stroke-width="0.8"/>
<ellipse cx="455.76" cy="449.51" rx="2.67" ry="3.19" fill="none" stroke="#6a6a6a" stroke-width="0.8"/>
<ellipse cx="457.15" cy="447.69" rx="2.67" ry="3.19" fill="none" stroke="#6a6a6a" stroke-width="0.8"/>
<ellipse cx="458.87" cy="446.19" rx="2.67" ry="3.19" fill="none" stroke="#6a6a6a" stroke-width="0.8"/>
<ellipse cx="460.39" cy="444.49" rx="2.67" ry="3.19" fill="none" stroke="#6a6a6a" stroke-width="0.8"/>
<ellipse cx="461.96" cy="442.85" rx="2.67" ry="3.19" fill="none" stroke="#6a6a6a" stroke-width="0.8"/>
<ellipse cx="463.69" cy="441.36" rx="2.67" ry="3.19" fill="none" stroke="#6a6a6a" stroke-width="0.8"/>
<ellipse cx="465.29" cy="439.74" rx="2.67" ry="3.19" fill="none" stroke="#6a6a6a" stroke-width="0.8"/>
<ellipse cx="467.07" cy="438.3" rx="2.67" ry="3.19" fill="none" stroke="#6a6a6a" stroke-width="0.8"/>
<ellipse cx="468.53" cy="436.54" rx="2.67" ry="3.19" fill="none" stroke="#6a6a6a" stroke-width="0.8"/>
<ellipse cx="470.27" cy="435.07" rx="2.67" ry="3.19" fill="none" stroke="#6a6a6a" stroke-width="0.8"/>
<ellipse cx="471.82" cy="433.4" rx="2.67" ry="3.19" fill="none" stroke="#6a6a6a" stroke-width="0.8"/>
<ellipse cx="473.49" cy="431.85" rx="2.67" ry="3.19" fill="none" stroke="#6a6a6a" stroke-width="0.8"/>
<ellipse cx="474.89" cy="430.04" rx="2.67" ry="3.19" fill="none" stroke="#6a6a6a" stroke-width="0.8"/>
<ellipse cx="476.18" cy="428.11" rx="2.67" ry="3.19" fill="none" stroke="#6a6a6a" stroke-width="0.8"/>
<ellipse cx="481.38" cy="423.65" rx="2.67" ry="3.19" fill="none" stroke="#6a6a6a" stroke-width="0.8"/>
<ellipse cx="483.03" cy="422.09" rx="2.67" ry="3.19" fill="none" stroke="#6a6a6a" stroke-width="0.8"/>
<ellipse cx="484.59" cy="420.42" rx="2.67" ry="3.19" fill="none" stroke="#6a6a6a" stroke-width="0.8"/>
<ellipse cx="485.98" cy="418.6" rx="2.67" ry="3.19" fill="none" stroke="#6a6a6a" stroke-width="0.8"/>
<ellipse cx="489.25" cy="415.43" rx="2.67" ry="3.19" fill="none" stroke="#6a6a6a" stroke-width="0.8"/>
<ellipse cx="490.54" cy="413.51" rx="2.67" ry="3.19" fill="none" stroke="#6a6a6a" stroke-width="0.8"/>
<ellipse cx="492.51" cy="412.25" rx="2.67" ry="3.19" fill="none" stroke="#6a6a6a" stroke-width="0.8"/>
<ellipse cx="495.54" cy="408.85" rx="2.67" ry="3.19" fill="none" stroke="#6a6a6a" stroke-width="0.8"/>
<ellipse cx="496.95" cy="407.05" rx="2.67" ry="3.19" fill="none" stroke="#6a6a6a" stroke-width="0.8"/>
<ellipse cx="498.41" cy="405.29" rx="2.67" ry="3.19" fill="none" stroke="#6a6a6a" stroke-width="0.8"/>
<ellipse cx="500.48" cy="404.14" rx="2.67" ry="3.19" fill="none" stroke="#6a6a6a" stroke-width="0.8"/>
<ellipse cx="502.15" cy="402.6" rx="2.67" ry="3.19" fill="none" stroke="#6a6a6a" stroke-width="0.8"/>
<ellipse cx="503.21" cy="400.43" rx="2.67" ry="3.19" fill="none" stroke="#6a6a6a" stroke-width="0.8"/>
<ellipse cx="505.23" cy="399.23" rx="2.67" ry="3.19" fill="none" stroke="#6a6a6a" stroke-width="0.8"/>
<ellipse cx="506.58" cy="397.37" rx="2.67" ry="3.19" fill="none" stroke="#6a6a6a" stroke-width="0.8"/>
<ellipse cx="508.02" cy="395.59" rx="2.67" ry="3.19" fill="none" stroke="#6a6a6a" stroke-width="0.8"/>
<ellipse cx="509.7" cy="394.05" rx="2.67" ry="3.19" fill="none" stroke="#6a6a6a" stroke-width="0.8"/>
<ellipse cx="511.58" cy="392.71" rx="2.67" ry="3.19" fill="none" stroke="#6a6a6a" stroke-width="0.8"/>
<ellipse cx="513.23" cy="391.15" rx="2.67" ry="3.19" fill="none" stroke="#6a6a6a" stroke-width="0.8"/>
<ellipse cx="514.33" cy="389.03" rx="2.67" ry="3.19" fill="none" stroke="#6a6a6a" stroke-width="0.8"/>
<line x1="388.8" y1="517.7" x2="514.6" y2="389.3" stroke="#4848c8" stroke-width="0.9" />
<line x1="388.8" y1="389.3" x2="514.6" y2="389.3" stroke="#777" stroke-width="1.1" />
<line x1="388.8" y1="517.7" x2="514.6" y2="517.7" stroke="#777" stroke-width="1.1" />
<line x1="388.8" y1="389.3" x2="388.8" y2="517.7" stroke="#aaa" stroke-width="1.1" />
<line x1="514.6" y1="389.3" x2="514.6" y2="517.7" stroke="#777" stroke-width="1.1" />
<line x1="388.8" y1="517.7" x2="388.8" y2="515.2" stroke="#666" stroke-width="0.9" />
<line x1="388.8" y1="389.3" x2="388.8" y2="391.8" stroke="#666" stroke-width="0.9" />
<line x1="413.96" y1="517.7" x2="413.96" y2="515.2" stroke="#666" stroke-width="0.9" />
<line x1="413.96" y1="389.3" x2="413.96" y2="391.8" stroke="#666" stroke-width="0.9" />
<line x1="439.12" y1="517.7" x2="439.12" y2="515.2" stroke="#666" stroke-width="0.9" />
<line x1="439.12" y1="389.3" x2="439.12" y2="391.8" stroke="#666" stroke-width="0.9" />
<line x1="464.28" y1="517.7" x2="464.28" y2="515.2" stroke="#666" stroke-width="0.9" />
<line x1="464.28" y1="389.3" x2="464.28" y2="391.8" stroke="#666" stroke-width="0.9" />
<line x1="489.44" y1="517.7" x2="489.44" y2="515.2" stroke="#666" stroke-width="0.9" />
<line x1="489.44" y1="389.3" x2="489.44" y2="391.8" stroke="#666" stroke-width="0.9" />
<line x1="514.6" y1="517.7" x2="514.6" y2="515.2" stroke="#666" stroke-width="0.9" />
<line x1="514.6" y1="389.3" x2="514.6" y2="391.8" stroke="#666" stroke-width="0.9" />
<line x1="388.8" y1="517.7" x2="391.3" y2="517.7" stroke="#666" stroke-width="0.9" />
<line x1="514.6" y1="517.7" x2="512.1" y2="517.7" stroke="#666" stroke-width="0.9" />
<line x1="388.8" y1="492.02" x2="391.3" y2="492.02" stroke="#666" stroke-width="0.9" />
<line x1="514.6" y1="492.02" x2="512.1" y2="492.02" stroke="#666" stroke-width="0.9" />
<line x1="388.8" y1="466.34" x2="391.3" y2="466.34" stroke="#666" stroke-width="0.9" />
<line x1="514.6" y1="466.34" x2="512.1" y2="466.34" stroke="#666" stroke-width="0.9" />
<line x1="388.8" y1="440.66" x2="391.3" y2="440.66" stroke="#666" stroke-width="0.9" />
<line x1="514.6" y1="440.66" x2="512.1" y2="440.66" stroke="#666" stroke-width="0.9" />
<line x1="388.8" y1="414.98" x2="391.3" y2="414.98" stroke="#666" stroke-width="0.9" />
<line x1="514.6" y1="414.98" x2="512.1" y2="414.98" stroke="#666" stroke-width="0.9" />
<line x1="388.8" y1="389.3" x2="391.3" y2="389.3" stroke="#666" stroke-width="0.9" />
<line x1="514.6" y1="389.3" x2="512.1" y2="389.3" stroke="#666" stroke-width="0.9" />
<text x="376.44" y="520.7" font-size="7.9" font-weight="normal" fill="#444" textLength="9.68" lengthAdjust="spacingAndGlyphs" style="font-family:'Liberation Sans', sans-serif" >0.3</text>
<text x="372.44" y="495.02" font-size="7.9" font-weight="normal" fill="#444" textLength="13.73" lengthAdjust="spacingAndGlyphs" style="font-family:'Liberation Sans', sans-serif" >0.32</text>
<text x="372.29" y="469.34" font-size="7.9" font-weight="normal" fill="#444" textLength="13.73" lengthAdjust="spacingAndGlyphs" style="font-family:'Liberation Sans', sans-serif" >0.34</text>
<text x="372.4" y="443.66" font-size="7.9" font-weight="normal" fill="#444" textLength="13.73" lengthAdjust="spacingAndGlyphs" style="font-family:'Liberation Sans', sans-serif" >0.36</text>
<text x="372.36" y="417.98" font-size="7.9" font-weight="normal" fill="#444" textLength="13.73" lengthAdjust="spacingAndGlyphs" style="font-family:'Liberation Sans', sans-serif" >0.38</text>
<text x="376.33" y="392.3" font-size="7.9" font-weight="normal" fill="#444" textLength="9.68" lengthAdjust="spacingAndGlyphs" style="font-family:'Liberation Sans', sans-serif" >0.4</text>
<text x="383.98" y="527" font-size="7.9" font-weight="normal" fill="#444" textLength="9.68" lengthAdjust="spacingAndGlyphs" style="font-family:'Liberation Sans', sans-serif" >0.3</text>
<text x="407.14" y="527" font-size="7.9" font-weight="normal" fill="#444" textLength="13.73" lengthAdjust="spacingAndGlyphs" style="font-family:'Liberation Sans', sans-serif" >0.32</text>
<text x="432.22" y="527" font-size="7.9" font-weight="normal" fill="#444" textLength="13.73" lengthAdjust="spacingAndGlyphs" style="font-family:'Liberation Sans', sans-serif" >0.34</text>
<text x="457.44" y="527" font-size="7.9" font-weight="normal" fill="#444" textLength="13.73" lengthAdjust="spacingAndGlyphs" style="font-family:'Liberation Sans', sans-serif" >0.36</text>
<text x="482.58" y="527" font-size="7.9" font-weight="normal" fill="#444" textLength="13.73" lengthAdjust="spacingAndGlyphs" style="font-family:'Liberation Sans', sans-serif" >0.38</text>
<text x="509.72" y="527" font-size="7.9" font-weight="normal" fill="#444" textLength="9.68" lengthAdjust="spacingAndGlyphs" style="font-family:'Liberation Sans', sans-serif" >0.4</text>
<text x="423.92" y="383" font-size="9.0" font-weight="bold" fill="#111" textLength="53.31" lengthAdjust="spacingAndGlyphs" style="font-family:'Liberation Sans', sans-serif" >Training: R=1</text>
<text x="438.91" y="537.2" font-size="9.0" font-weight="bold" fill="#111" textLength="25.59" lengthAdjust="spacingAndGlyphs" style="font-family:'Liberation Sans', sans-serif" >Target</text>
<text transform="translate(367,511.9) scale(0.9,1) rotate(-90)" x="-0.35" y="0" font-size="9.0" font-weight="bold" fill="#111" textLength="117.24" lengthAdjust="spacingAndGlyphs">Output ~= 1*Target + 7.1e-06</text>
<rect x="392.4" y="393.4" width="48.4" height="33.1" fill="#fff" stroke="#333" stroke-width="1" />
<circle cx="407.7" cy="399.8" r="2.4" fill="none" stroke="#333" stroke-width="0.8"/>
<line x1="396.8" y1="409.4" x2="418.5" y2="409.4" stroke="#4848c8" stroke-width="1.3" />
<line x1="396.8" y1="419.9" x2="418.5" y2="419.9" stroke="#888" stroke-width="0.9" stroke-dasharray="1 1.6"/>
<text x="420.87" y="402.4" font-size="7.8" font-weight="normal" fill="#333" textLength="13.94" lengthAdjust="spacingAndGlyphs" style="font-family:'Liberation Sans', sans-serif" >Data</text>
<text x="420.88" y="412.9" font-size="7.8" font-weight="normal" fill="#333" textLength="7.15" lengthAdjust="spacingAndGlyphs" style="font-family:'Liberation Sans', sans-serif" >Fit</text>
<text x="421.22" y="422.9" font-size="7.8" font-weight="normal" fill="#333" textLength="16.93" lengthAdjust="spacingAndGlyphs" style="font-family:'Liberation Sans', sans-serif" >Y = T</text>
<line x1="554" y1="517.7" x2="679.3" y2="389.1" stroke="#999" stroke-width="0.8" stroke-dasharray="1 1.6"/>
<ellipse cx="558.9" cy="513.2" rx="2.3" ry="2.75" fill="none" stroke="#333" stroke-width="0.8"/>
<ellipse cx="576.3" cy="494.6" rx="2.3" ry="2.75" fill="none" stroke="#333" stroke-width="0.8"/>
<ellipse cx="580" cy="490.4" rx="2.3" ry="2.75" fill="none" stroke="#333" stroke-width="0.8"/>
<ellipse cx="582.5" cy="488.6" rx="2.3" ry="2.75" fill="none" stroke="#333" stroke-width="0.8"/>
<ellipse cx="587" cy="483.4" rx="2.3" ry="2.75" fill="none" stroke="#333" stroke-width="0.8"/>
<ellipse cx="605.1" cy="464.8" rx="2.3" ry="2.75" fill="none" stroke="#333" stroke-width="0.8"/>
<ellipse cx="630.9" cy="439" rx="2.3" ry="2.75" fill="none" stroke="#333" stroke-width="0.8"/>
<ellipse cx="631.7" cy="438.2" rx="2.3" ry="2.75" fill="none" stroke="#333" stroke-width="0.8"/>
<ellipse cx="642" cy="427.1" rx="2.3" ry="2.75" fill="none" stroke="#333" stroke-width="0.8"/>
<ellipse cx="643.4" cy="426.2" rx="2.3" ry="2.75" fill="none" stroke="#333" stroke-width="0.8"/>
<ellipse cx="649.5" cy="420.7" rx="2.3" ry="2.75" fill="none" stroke="#333" stroke-width="0.8"/>
<ellipse cx="655.2" cy="414" rx="2.3" ry="2.75" fill="none" stroke="#333" stroke-width="0.8"/>
<ellipse cx="663.1" cy="406" rx="2.3" ry="2.75" fill="none" stroke="#333" stroke-width="0.8"/>
<ellipse cx="672.6" cy="395.8" rx="2.3" ry="2.75" fill="none" stroke="#333" stroke-width="0.8"/>
<ellipse cx="673.8" cy="394.7" rx="2.3" ry="2.75" fill="none" stroke="#333" stroke-width="0.8"/>
<line x1="554" y1="517.7" x2="679.3" y2="389.1" stroke="#20d020" stroke-width="1.6" />
<line x1="554" y1="389.1" x2="679.3" y2="389.1" stroke="#777" stroke-width="1.1" />
<line x1="554" y1="517.7" x2="679.3" y2="517.7" stroke="#777" stroke-width="1.1" />
<line x1="554" y1="389.1" x2="554" y2="517.7" stroke="#aaa" stroke-width="1.1" />
<line x1="679.3" y1="389.1" x2="679.3" y2="517.7" stroke="#777" stroke-width="1.1" />
<line x1="579" y1="517.7" x2="579" y2="515.2" stroke="#666" stroke-width="0.9" />
<line x1="579" y1="389.1" x2="579" y2="391.6" stroke="#666" stroke-width="0.9" />
<line x1="604.23" y1="517.7" x2="604.23" y2="515.2" stroke="#666" stroke-width="0.9" />
<line x1="604.23" y1="389.1" x2="604.23" y2="391.6" stroke="#666" stroke-width="0.9" />
<line x1="629.47" y1="517.7" x2="629.47" y2="515.2" stroke="#666" stroke-width="0.9" />
<line x1="629.47" y1="389.1" x2="629.47" y2="391.6" stroke="#666" stroke-width="0.9" />
<line x1="654.7" y1="517.7" x2="654.7" y2="515.2" stroke="#666" stroke-width="0.9" />
<line x1="654.7" y1="389.1" x2="654.7" y2="391.6" stroke="#666" stroke-width="0.9" />
<line x1="554" y1="505.3" x2="556.5" y2="505.3" stroke="#666" stroke-width="0.9" />
<line x1="679.3" y1="505.3" x2="676.8" y2="505.3" stroke="#666" stroke-width="0.9" />
<line x1="554" y1="492.34" x2="556.5" y2="492.34" stroke="#666" stroke-width="0.9" />
<line x1="679.3" y1="492.34" x2="676.8" y2="492.34" stroke="#666" stroke-width="0.9" />
<line x1="554" y1="479.38" x2="556.5" y2="479.38" stroke="#666" stroke-width="0.9" />
<line x1="679.3" y1="479.38" x2="676.8" y2="479.38" stroke="#666" stroke-width="0.9" />
<line x1="554" y1="466.41" x2="556.5" y2="466.41" stroke="#666" stroke-width="0.9" />
<line x1="679.3" y1="466.41" x2="676.8" y2="466.41" stroke="#666" stroke-width="0.9" />
<line x1="554" y1="453.45" x2="556.5" y2="453.45" stroke="#666" stroke-width="0.9" />
<line x1="679.3" y1="453.45" x2="676.8" y2="453.45" stroke="#666" stroke-width="0.9" />
<line x1="554" y1="440.49" x2="556.5" y2="440.49" stroke="#666" stroke-width="0.9" />
<line x1="679.3" y1="440.49" x2="676.8" y2="440.49" stroke="#666" stroke-width="0.9" />
<line x1="554" y1="427.53" x2="556.5" y2="427.53" stroke="#666" stroke-width="0.9" />
<line x1="679.3" y1="427.53" x2="676.8" y2="427.53" stroke="#666" stroke-width="0.9" />
<line x1="554" y1="414.56" x2="556.5" y2="414.56" stroke="#666" stroke-width="0.9" />
<line x1="679.3" y1="414.56" x2="676.8" y2="414.56" stroke="#666" stroke-width="0.9" />
<line x1="554" y1="401.6" x2="556.5" y2="401.6" stroke="#666" stroke-width="0.9" />
<line x1="679.3" y1="401.6" x2="676.8" y2="401.6" stroke="#666" stroke-width="0.9" />
<text x="537.64" y="508.3" font-size="7.9" font-weight="normal" fill="#444" textLength="13.73" lengthAdjust="spacingAndGlyphs" style="font-family:'Liberation Sans', sans-serif" >0.31</text>
<text x="537.64" y="495.34" font-size="7.9" font-weight="normal" fill="#444" textLength="13.73" lengthAdjust="spacingAndGlyphs" style="font-family:'Liberation Sans', sans-serif" >0.32</text>
<text x="537.6" y="482.38" font-size="7.9" font-weight="normal" fill="#444" textLength="13.73" lengthAdjust="spacingAndGlyphs" style="font-family:'Liberation Sans', sans-serif" >0.33</text>
<text x="537.49" y="469.41" font-size="7.9" font-weight="normal" fill="#444" textLength="13.73" lengthAdjust="spacingAndGlyphs" style="font-family:'Liberation Sans', sans-serif" >0.34</text>
<text x="537.56" y="456.45" font-size="7.9" font-weight="normal" fill="#444" textLength="13.73" lengthAdjust="spacingAndGlyphs" style="font-family:'Liberation Sans', sans-serif" >0.35</text>
<text x="537.6" y="443.49" font-size="7.9" font-weight="normal" fill="#444" textLength="13.73" lengthAdjust="spacingAndGlyphs" style="font-family:'Liberation Sans', sans-serif" >0.36</text>
<text x="537.64" y="430.53" font-size="7.9" font-weight="normal" fill="#444" textLength="13.73" lengthAdjust="spacingAndGlyphs" style="font-family:'Liberation Sans', sans-serif" >0.37</text>
<text x="537.56" y="417.56" font-size="7.9" font-weight="normal" fill="#444" textLength="13.73" lengthAdjust="spacingAndGlyphs" style="font-family:'Liberation Sans', sans-serif" >0.38</text>
<text x="537.6" y="404.6" font-size="7.9" font-weight="normal" fill="#444" textLength="13.73" lengthAdjust="spacingAndGlyphs" style="font-family:'Liberation Sans', sans-serif" >0.39</text>
<text x="572.18" y="527" font-size="7.9" font-weight="normal" fill="#444" textLength="13.73" lengthAdjust="spacingAndGlyphs" style="font-family:'Liberation Sans', sans-serif" >0.32</text>
<text x="597.34" y="527" font-size="7.9" font-weight="normal" fill="#444" textLength="13.73" lengthAdjust="spacingAndGlyphs" style="font-family:'Liberation Sans', sans-serif" >0.34</text>
<text x="622.63" y="527" font-size="7.9" font-weight="normal" fill="#444" textLength="13.73" lengthAdjust="spacingAndGlyphs" style="font-family:'Liberation Sans', sans-serif" >0.36</text>
<text x="647.84" y="527" font-size="7.9" font-weight="normal" fill="#444" textLength="13.73" lengthAdjust="spacingAndGlyphs" style="font-family:'Liberation Sans', sans-serif" >0.38</text>
<text x="585.62" y="382.8" font-size="9.0" font-weight="bold" fill="#111" textLength="60.61" lengthAdjust="spacingAndGlyphs" style="font-family:'Liberation Sans', sans-serif" >Validation: R=1</text>
<text x="603.86" y="537.2" font-size="9.0" font-weight="bold" fill="#111" textLength="25.59" lengthAdjust="spacingAndGlyphs" style="font-family:'Liberation Sans', sans-serif" >Target</text>
<text transform="translate(532.1,507.8) scale(0.9,1) rotate(-90)" x="-0.35" y="0" font-size="9.0" font-weight="bold" fill="#111" textLength="109.36" lengthAdjust="spacingAndGlyphs">Output ~= 1*Target + 4e-05</text>
<rect x="557.7" y="392.9" width="48.4" height="33.1" fill="#fff" stroke="#333" stroke-width="1" />
<circle cx="573" cy="399.3" r="2.4" fill="none" stroke="#333" stroke-width="0.8"/>
<line x1="562.1" y1="408.9" x2="583.8" y2="408.9" stroke="#20d020" stroke-width="1.3" />
<line x1="562.1" y1="419.4" x2="583.8" y2="419.4" stroke="#888" stroke-width="0.9" stroke-dasharray="1 1.6"/>
<text x="586.17" y="401.9" font-size="7.8" font-weight="normal" fill="#333" textLength="13.94" lengthAdjust="spacingAndGlyphs" style="font-family:'Liberation Sans', sans-serif" >Data</text>
<text x="586.18" y="412.4" font-size="7.8" font-weight="normal" fill="#333" textLength="7.15" lengthAdjust="spacingAndGlyphs" style="font-family:'Liberation Sans', sans-serif" >Fit</text>
<text x="586.52" y="422.4" font-size="7.8" font-weight="normal" fill="#333" textLength="16.93" lengthAdjust="spacingAndGlyphs" style="font-family:'Liberation Sans', sans-serif" >Y = T</text>
<line x1="388.6" y1="700.2" x2="514.6" y2="571.6" stroke="#999" stroke-width="0.8" stroke-dasharray="1 1.6"/>
<ellipse cx="389.7" cy="699.4" rx="2.3" ry="2.75" fill="none" stroke="#333" stroke-width="0.8"/>
<ellipse cx="391.4" cy="697.2" rx="2.3" ry="2.75" fill="none" stroke="#333" stroke-width="0.8"/>
<ellipse cx="393.4" cy="695.2" rx="2.3" ry="2.75" fill="none" stroke="#333" stroke-width="0.8"/>
<ellipse cx="395.4" cy="694" rx="2.3" ry="2.75" fill="none" stroke="#333" stroke-width="0.8"/>
<ellipse cx="412.5" cy="675.3" rx="2.3" ry="2.75" fill="none" stroke="#333" stroke-width="0.8"/>
<ellipse cx="426.1" cy="662.4" rx="2.3" ry="2.75" fill="none" stroke="#333" stroke-width="0.8"/>
<ellipse cx="429.9" cy="658.2" rx="2.3" ry="2.75" fill="none" stroke="#333" stroke-width="0.8"/>
<ellipse cx="431.4" cy="656.5" rx="2.3" ry="2.75" fill="none" stroke="#333" stroke-width="0.8"/>
<ellipse cx="443.8" cy="643.6" rx="2.3" ry="2.75" fill="none" stroke="#333" stroke-width="0.8"/>
<ellipse cx="457.9" cy="629.4" rx="2.3" ry="2.75" fill="none" stroke="#333" stroke-width="0.8"/>
<ellipse cx="459.6" cy="627.6" rx="2.3" ry="2.75" fill="none" stroke="#333" stroke-width="0.8"/>
<ellipse cx="469.8" cy="616.5" rx="2.3" ry="2.75" fill="none" stroke="#333" stroke-width="0.8"/>
<ellipse cx="479" cy="607.1" rx="2.3" ry="2.75" fill="none" stroke="#333" stroke-width="0.8"/>
<ellipse cx="483" cy="603.4" rx="2.3" ry="2.75" fill="none" stroke="#333" stroke-width="0.8"/>
<ellipse cx="488.2" cy="597.7" rx="2.3" ry="2.75" fill="none" stroke="#333" stroke-width="0.8"/>
<ellipse cx="490.7" cy="595.2" rx="2.3" ry="2.75" fill="none" stroke="#333" stroke-width="0.8"/>
<line x1="388.6" y1="700.2" x2="514.6" y2="571.6" stroke="#d02020" stroke-width="1.6" />
<line x1="388.6" y1="571.6" x2="514.6" y2="571.6" stroke="#777" stroke-width="1.1" />
<line x1="388.6" y1="700.2" x2="514.6" y2="700.2" stroke="#777" stroke-width="1.1" />
<line x1="388.6" y1="571.6" x2="388.6" y2="700.2" stroke="#aaa" stroke-width="1.1" />
<line x1="514.6" y1="571.6" x2="514.6" y2="700.2" stroke="#777" stroke-width="1.1" />
<line x1="413.6" y1="700.2" x2="413.6" y2="697.7" stroke="#666" stroke-width="0.9" />
<line x1="413.6" y1="571.6" x2="413.6" y2="574.1" stroke="#666" stroke-width="0.9" />
<line x1="438.7" y1="700.2" x2="438.7" y2="697.7" stroke="#666" stroke-width="0.9" />
<line x1="438.7" y1="571.6" x2="438.7" y2="574.1" stroke="#666" stroke-width="0.9" />
<line x1="463.8" y1="700.2" x2="463.8" y2="697.7" stroke="#666" stroke-width="0.9" />
<line x1="463.8" y1="571.6" x2="463.8" y2="574.1" stroke="#666" stroke-width="0.9" />
<line x1="488.9" y1="700.2" x2="488.9" y2="697.7" stroke="#666" stroke-width="0.9" />
<line x1="488.9" y1="571.6" x2="488.9" y2="574.1" stroke="#666" stroke-width="0.9" />
<line x1="388.6" y1="687.5" x2="391.1" y2="687.5" stroke="#666" stroke-width="0.9" />
<line x1="514.6" y1="687.5" x2="512.1" y2="687.5" stroke="#666" stroke-width="0.9" />
<line x1="388.6" y1="674.6" x2="391.1" y2="674.6" stroke="#666" stroke-width="0.9" />
<line x1="514.6" y1="674.6" x2="512.1" y2="674.6" stroke="#666" stroke-width="0.9" />
<line x1="388.6" y1="661.7" x2="391.1" y2="661.7" stroke="#666" stroke-width="0.9" />
<line x1="514.6" y1="661.7" x2="512.1" y2="661.7" stroke="#666" stroke-width="0.9" />
<line x1="388.6" y1="648.8" x2="391.1" y2="648.8" stroke="#666" stroke-width="0.9" />
<line x1="514.6" y1="648.8" x2="512.1" y2="648.8" stroke="#666" stroke-width="0.9" />
<line x1="388.6" y1="635.9" x2="391.1" y2="635.9" stroke="#666" stroke-width="0.9" />
<line x1="514.6" y1="635.9" x2="512.1" y2="635.9" stroke="#666" stroke-width="0.9" />
<line x1="388.6" y1="623" x2="391.1" y2="623" stroke="#666" stroke-width="0.9" />
<line x1="514.6" y1="623" x2="512.1" y2="623" stroke="#666" stroke-width="0.9" />
<line x1="388.6" y1="610.1" x2="391.1" y2="610.1" stroke="#666" stroke-width="0.9" />
<line x1="514.6" y1="610.1" x2="512.1" y2="610.1" stroke="#666" stroke-width="0.9" />
<line x1="388.6" y1="597.2" x2="391.1" y2="597.2" stroke="#666" stroke-width="0.9" />
<line x1="514.6" y1="597.2" x2="512.1" y2="597.2" stroke="#666" stroke-width="0.9" />
<line x1="388.6" y1="584.3" x2="391.1" y2="584.3" stroke="#666" stroke-width="0.9" />
<line x1="514.6" y1="584.3" x2="512.1" y2="584.3" stroke="#666" stroke-width="0.9" />
<text x="372.24" y="690.5" font-size="7.9" font-weight="normal" fill="#444" textLength="13.73" lengthAdjust="spacingAndGlyphs" style="font-family:'Liberation Sans', sans-serif" >0.31</text>
<text x="372.24" y="677.6" font-size="7.9" font-weight="normal" fill="#444" textLength="13.73" lengthAdjust="spacingAndGlyphs" style="font-family:'Liberation Sans', sans-serif" >0.32</text>
<text x="372.2" y="664.7" font-size="7.9" font-weight="normal" fill="#444" textLength="13.73" lengthAdjust="spacingAndGlyphs" style="font-family:'Liberation Sans', sans-serif" >0.33</text>
<text x="372.09" y="651.8" font-size="7.9" font-weight="normal" fill="#444" textLength="13.73" lengthAdjust="spacingAndGlyphs" style="font-family:'Liberation Sans', sans-serif" >0.34</text>
<text x="372.16" y="638.9" font-size="7.9" font-weight="normal" fill="#444" textLength="13.73" lengthAdjust="spacingAndGlyphs" style="font-family:'Liberation Sans', sans-serif" >0.35</text>
<text x="372.2" y="626" font-size="7.9" font-weight="normal" fill="#444" textLength="13.73" lengthAdjust="spacingAndGlyphs" style="font-family:'Liberation Sans', sans-serif" >0.36</text>
<text x="372.24" y="613.1" font-size="7.9" font-weight="normal" fill="#444" textLength="13.73" lengthAdjust="spacingAndGlyphs" style="font-family:'Liberation Sans', sans-serif" >0.37</text>
<text x="372.16" y="600.2" font-size="7.9" font-weight="normal" fill="#444" textLength="13.73" lengthAdjust="spacingAndGlyphs" style="font-family:'Liberation Sans', sans-serif" >0.38</text>
<text x="372.2" y="587.3" font-size="7.9" font-weight="normal" fill="#444" textLength="13.73" lengthAdjust="spacingAndGlyphs" style="font-family:'Liberation Sans', sans-serif" >0.39</text>
<text x="406.78" y="709.5" font-size="7.9" font-weight="normal" fill="#444" textLength="13.73" lengthAdjust="spacingAndGlyphs" style="font-family:'Liberation Sans', sans-serif" >0.32</text>
<text x="431.8" y="709.5" font-size="7.9" font-weight="normal" fill="#444" textLength="13.73" lengthAdjust="spacingAndGlyphs" style="font-family:'Liberation Sans', sans-serif" >0.34</text>
<text x="456.96" y="709.5" font-size="7.9" font-weight="normal" fill="#444" textLength="13.73" lengthAdjust="spacingAndGlyphs" style="font-family:'Liberation Sans', sans-serif" >0.36</text>
<text x="482.04" y="709.5" font-size="7.9" font-weight="normal" fill="#444" textLength="13.73" lengthAdjust="spacingAndGlyphs" style="font-family:'Liberation Sans', sans-serif" >0.38</text>
<text x="431.21" y="565.3" font-size="9.0" font-weight="bold" fill="#111" textLength="38" lengthAdjust="spacingAndGlyphs" style="font-family:'Liberation Sans', sans-serif" >Test: R=1</text>
<text x="438.81" y="719.7" font-size="9.0" font-weight="bold" fill="#111" textLength="25.59" lengthAdjust="spacingAndGlyphs" style="font-family:'Liberation Sans', sans-serif" >Target</text>
<text transform="translate(367,690.4) scale(0.9,1) rotate(-90)" x="-0.34" y="0" font-size="9.0" font-weight="bold" fill="#111" textLength="108.76" lengthAdjust="spacingAndGlyphs">Output ~= 1*Target + 3e-05</text>
<rect x="392.1" y="575.3" width="48.4" height="33.1" fill="#fff" stroke="#333" stroke-width="1" />
<circle cx="407.4" cy="581.7" r="2.4" fill="none" stroke="#333" stroke-width="0.8"/>
<line x1="396.5" y1="591.3" x2="418.2" y2="591.3" stroke="#d02020" stroke-width="1.3" />
<line x1="396.5" y1="601.8" x2="418.2" y2="601.8" stroke="#888" stroke-width="0.9" stroke-dasharray="1 1.6"/>
<text x="420.57" y="584.3" font-size="7.8" font-weight="normal" fill="#333" textLength="13.94" lengthAdjust="spacingAndGlyphs" style="font-family:'Liberation Sans', sans-serif" >Data</text>
<text x="420.58" y="594.8" font-size="7.8" font-weight="normal" fill="#333" textLength="7.15" lengthAdjust="spacingAndGlyphs" style="font-family:'Liberation Sans', sans-serif" >Fit</text>
<text x="420.92" y="604.8" font-size="7.8" font-weight="normal" fill="#333" textLength="16.93" lengthAdjust="spacingAndGlyphs" style="font-family:'Liberation Sans', sans-serif" >Y = T</text>
<line x1="554" y1="700.2" x2="679.3" y2="571.6" stroke="#999" stroke-width="0.8" stroke-dasharray="1 1.6"/>
<ellipse cx="554.07" cy="700.27" rx="2.67" ry="3.19" fill="none" stroke="#3a3a3a" stroke-width="0.8"/>
<ellipse cx="554.78" cy="698.85" rx="2.67" ry="3.19" fill="none" stroke="#3a3a3a" stroke-width="0.8"/>
<ellipse cx="556.24" cy="698.17" rx="2.67" ry="3.19" fill="none" stroke="#3a3a3a" stroke-width="0.8"/>
<ellipse cx="557.06" cy="696.86" rx="2.67" ry="3.19" fill="none" stroke="#3a3a3a" stroke-width="0.8"/>
<ellipse cx="558.44" cy="696.11" rx="2.67" ry="3.19" fill="none" stroke="#3a3a3a" stroke-width="0.8"/>
<ellipse cx="559.55" cy="695.09" rx="2.67" ry="3.19" fill="none" stroke="#3a3a3a" stroke-width="0.8"/>
<ellipse cx="560.32" cy="693.72" rx="2.67" ry="3.19" fill="none" stroke="#3a3a3a" stroke-width="0.8"/>
<ellipse cx="561.67" cy="692.93" rx="2.67" ry="3.19" fill="none" stroke="#3a3a3a" stroke-width="0.8"/>
<ellipse cx="562.31" cy="691.44" rx="2.67" ry="3.19" fill="none" stroke="#3a3a3a" stroke-width="0.8"/>
<ellipse cx="563.22" cy="690.22" rx="2.67" ry="3.19" fill="none" stroke="#3a3a3a" stroke-width="0.8"/>
<ellipse cx="564.59" cy="689.45" rx="2.67" ry="3.19" fill="none" stroke="#3a3a3a" stroke-width="0.8"/>
<ellipse cx="565.3" cy="688.03" rx="2.67" ry="3.19" fill="none" stroke="#3a3a3a" stroke-width="0.8"/>
<ellipse cx="566.45" cy="687.05" rx="2.67" ry="3.19" fill="none" stroke="#3a3a3a" stroke-width="0.8"/>
<ellipse cx="567.63" cy="686.1" rx="2.67" ry="3.19" fill="none" stroke="#3a3a3a" stroke-width="0.8"/>
<ellipse cx="568.81" cy="685.14" rx="2.67" ry="3.19" fill="none" stroke="#3a3a3a" stroke-width="0.8"/>
<ellipse cx="569.59" cy="683.78" rx="2.67" ry="3.19" fill="none" stroke="#3a3a3a" stroke-width="0.8"/>
<ellipse cx="570.57" cy="682.63" rx="2.67" ry="3.19" fill="none" stroke="#3a3a3a" stroke-width="0.8"/>
<ellipse cx="572.12" cy="682.05" rx="2.67" ry="3.19" fill="none" stroke="#3a3a3a" stroke-width="0.8"/>
<ellipse cx="572.84" cy="680.64" rx="2.67" ry="3.19" fill="none" stroke="#3a3a3a" stroke-width="0.8"/>
<ellipse cx="574.28" cy="679.94" rx="2.67" ry="3.19" fill="none" stroke="#3a3a3a" stroke-width="0.8"/>
<ellipse cx="575.3" cy="678.82" rx="2.67" ry="3.19" fill="none" stroke="#3a3a3a" stroke-width="0.8"/>
<ellipse cx="576.04" cy="677.43" rx="2.67" ry="3.19" fill="none" stroke="#3a3a3a" stroke-width="0.8"/>
<ellipse cx="577.14" cy="676.4" rx="2.67" ry="3.19" fill="none" stroke="#3a3a3a" stroke-width="0.8"/>
<ellipse cx="578.23" cy="675.36" rx="2.67" ry="3.19" fill="none" stroke="#3a3a3a" stroke-width="0.8"/>
<ellipse cx="579.36" cy="674.35" rx="2.67" ry="3.19" fill="none" stroke="#3a3a3a" stroke-width="0.8"/>
<ellipse cx="580.38" cy="673.24" rx="2.67" ry="3.19" fill="none" stroke="#3a3a3a" stroke-width="0.8"/>
<ellipse cx="581.41" cy="672.14" rx="2.67" ry="3.19" fill="none" stroke="#3a3a3a" stroke-width="0.8"/>
<ellipse cx="582.5" cy="671.09" rx="2.67" ry="3.19" fill="none" stroke="#3a3a3a" stroke-width="0.8"/>
<ellipse cx="583.75" cy="670.21" rx="2.67" ry="3.19" fill="none" stroke="#3a3a3a" stroke-width="0.8"/>
<ellipse cx="584.54" cy="668.86" rx="2.67" ry="3.19" fill="none" stroke="#3a3a3a" stroke-width="0.8"/>
<ellipse cx="585.55" cy="667.74" rx="2.67" ry="3.19" fill="none" stroke="#3a3a3a" stroke-width="0.8"/>
<ellipse cx="586.77" cy="666.83" rx="2.67" ry="3.19" fill="none" stroke="#3a3a3a" stroke-width="0.8"/>
<ellipse cx="587.54" cy="665.46" rx="2.67" ry="3.19" fill="none" stroke="#3a3a3a" stroke-width="0.8"/>
<ellipse cx="588.63" cy="664.42" rx="2.67" ry="3.19" fill="none" stroke="#3a3a3a" stroke-width="0.8"/>
<ellipse cx="590.09" cy="663.74" rx="2.67" ry="3.19" fill="none" stroke="#3a3a3a" stroke-width="0.8"/>
<ellipse cx="590.87" cy="662.39" rx="2.67" ry="3.19" fill="none" stroke="#3a3a3a" stroke-width="0.8"/>
<ellipse cx="591.93" cy="661.32" rx="2.67" ry="3.19" fill="none" stroke="#3a3a3a" stroke-width="0.8"/>
<ellipse cx="592.67" cy="659.92" rx="2.67" ry="3.19" fill="none" stroke="#3a3a3a" stroke-width="0.8"/>
<ellipse cx="593.96" cy="659.08" rx="2.67" ry="3.19" fill="none" stroke="#3a3a3a" stroke-width="0.8"/>
<ellipse cx="595.11" cy="658.1" rx="2.67" ry="3.19" fill="none" stroke="#3a3a3a" stroke-width="0.8"/>
<ellipse cx="595.83" cy="656.69" rx="2.67" ry="3.19" fill="none" stroke="#3a3a3a" stroke-width="0.8"/>
<ellipse cx="597.24" cy="655.96" rx="2.67" ry="3.19" fill="none" stroke="#3a3a3a" stroke-width="0.8"/>
<ellipse cx="598.3" cy="654.89" rx="2.67" ry="3.19" fill="none" stroke="#3a3a3a" stroke-width="0.8"/>
<ellipse cx="599.01" cy="653.47" rx="2.67" ry="3.19" fill="none" stroke="#3a3a3a" stroke-width="0.8"/>
<ellipse cx="600.41" cy="652.73" rx="2.67" ry="3.19" fill="none" stroke="#3a3a3a" stroke-width="0.8"/>
<ellipse cx="601.36" cy="651.55" rx="2.67" ry="3.19" fill="none" stroke="#3a3a3a" stroke-width="0.8"/>
<ellipse cx="602.54" cy="650.6" rx="2.67" ry="3.19" fill="none" stroke="#3a3a3a" stroke-width="0.8"/>
<ellipse cx="603.4" cy="649.32" rx="2.67" ry="3.19" fill="none" stroke="#3a3a3a" stroke-width="0.8"/>
<ellipse cx="604.67" cy="648.45" rx="2.67" ry="3.19" fill="none" stroke="#3a3a3a" stroke-width="0.8"/>
<ellipse cx="605.74" cy="647.39" rx="2.67" ry="3.19" fill="none" stroke="#3a3a3a" stroke-width="0.8"/>
<ellipse cx="606.36" cy="645.88" rx="2.67" ry="3.19" fill="none" stroke="#3a3a3a" stroke-width="0.8"/>
<ellipse cx="607.44" cy="644.82" rx="2.67" ry="3.19" fill="none" stroke="#3a3a3a" stroke-width="0.8"/>
<ellipse cx="608.86" cy="644.11" rx="2.67" ry="3.19" fill="none" stroke="#3a3a3a" stroke-width="0.8"/>
<ellipse cx="610.08" cy="643.2" rx="2.67" ry="3.19" fill="none" stroke="#3a3a3a" stroke-width="0.8"/>
<ellipse cx="610.71" cy="641.69" rx="2.67" ry="3.19" fill="none" stroke="#3a3a3a" stroke-width="0.8"/>
<ellipse cx="611.89" cy="640.74" rx="2.67" ry="3.19" fill="none" stroke="#3a3a3a" stroke-width="0.8"/>
<ellipse cx="613.02" cy="639.74" rx="2.67" ry="3.19" fill="none" stroke="#3a3a3a" stroke-width="0.8"/>
<ellipse cx="613.91" cy="638.49" rx="2.67" ry="3.19" fill="none" stroke="#3a3a3a" stroke-width="0.8"/>
<ellipse cx="614.99" cy="637.44" rx="2.67" ry="3.19" fill="none" stroke="#3a3a3a" stroke-width="0.8"/>
<ellipse cx="616.01" cy="636.33" rx="2.67" ry="3.19" fill="none" stroke="#3a3a3a" stroke-width="0.8"/>
<ellipse cx="617.1" cy="635.28" rx="2.67" ry="3.19" fill="none" stroke="#3a3a3a" stroke-width="0.8"/>
<ellipse cx="618.29" cy="634.34" rx="2.67" ry="3.19" fill="none" stroke="#3a3a3a" stroke-width="0.8"/>
<ellipse cx="619.16" cy="633.08" rx="2.67" ry="3.19" fill="none" stroke="#3a3a3a" stroke-width="0.8"/>
<ellipse cx="620.26" cy="632.04" rx="2.67" ry="3.19" fill="none" stroke="#3a3a3a" stroke-width="0.8"/>
<ellipse cx="621.55" cy="631.2" rx="2.67" ry="3.19" fill="none" stroke="#3a3a3a" stroke-width="0.8"/>
<ellipse cx="622.16" cy="629.67" rx="2.67" ry="3.19" fill="none" stroke="#3a3a3a" stroke-width="0.8"/>
<ellipse cx="623.54" cy="628.92" rx="2.67" ry="3.19" fill="none" stroke="#3a3a3a" stroke-width="0.8"/>
<ellipse cx="624.69" cy="627.94" rx="2.67" ry="3.19" fill="none" stroke="#3a3a3a" stroke-width="0.8"/>
<ellipse cx="625.49" cy="626.6" rx="2.67" ry="3.19" fill="none" stroke="#3a3a3a" stroke-width="0.8"/>
<ellipse cx="626.49" cy="625.47" rx="2.67" ry="3.19" fill="none" stroke="#3a3a3a" stroke-width="0.8"/>
<ellipse cx="627.89" cy="624.74" rx="2.67" ry="3.19" fill="none" stroke="#3a3a3a" stroke-width="0.8"/>
<ellipse cx="628.6" cy="623.32" rx="2.67" ry="3.19" fill="none" stroke="#3a3a3a" stroke-width="0.8"/>
<ellipse cx="629.62" cy="622.2" rx="2.67" ry="3.19" fill="none" stroke="#3a3a3a" stroke-width="0.8"/>
<ellipse cx="630.83" cy="621.27" rx="2.67" ry="3.19" fill="none" stroke="#3a3a3a" stroke-width="0.8"/>
<ellipse cx="632.04" cy="620.35" rx="2.67" ry="3.19" fill="none" stroke="#3a3a3a" stroke-width="0.8"/>
<ellipse cx="632.73" cy="618.91" rx="2.67" ry="3.19" fill="none" stroke="#3a3a3a" stroke-width="0.8"/>
<ellipse cx="633.92" cy="617.96" rx="2.67" ry="3.19" fill="none" stroke="#3a3a3a" stroke-width="0.8"/>
<ellipse cx="634.98" cy="616.89" rx="2.67" ry="3.19" fill="none" stroke="#3a3a3a" stroke-width="0.8"/>
<ellipse cx="636.33" cy="616.11" rx="2.67" ry="3.19" fill="none" stroke="#3a3a3a" stroke-width="0.8"/>
<ellipse cx="637.15" cy="614.79" rx="2.67" ry="3.19" fill="none" stroke="#3a3a3a" stroke-width="0.8"/>
<ellipse cx="638.45" cy="613.96" rx="2.67" ry="3.19" fill="none" stroke="#3a3a3a" stroke-width="0.8"/>
<ellipse cx="639.09" cy="612.47" rx="2.67" ry="3.19" fill="none" stroke="#3a3a3a" stroke-width="0.8"/>
<ellipse cx="640.24" cy="611.49" rx="2.67" ry="3.19" fill="none" stroke="#3a3a3a" stroke-width="0.8"/>
<ellipse cx="641.48" cy="610.59" rx="2.67" ry="3.19" fill="none" stroke="#3a3a3a" stroke-width="0.8"/>
<ellipse cx="642.68" cy="609.65" rx="2.67" ry="3.19" fill="none" stroke="#3a3a3a" stroke-width="0.8"/>
<ellipse cx="643.47" cy="608.31" rx="2.67" ry="3.19" fill="none" stroke="#3a3a3a" stroke-width="0.8"/>
<ellipse cx="644.39" cy="607.1" rx="2.67" ry="3.19" fill="none" stroke="#3a3a3a" stroke-width="0.8"/>
<ellipse cx="645.38" cy="605.95" rx="2.67" ry="3.19" fill="none" stroke="#3a3a3a" stroke-width="0.8"/>
<ellipse cx="646.68" cy="605.12" rx="2.67" ry="3.19" fill="none" stroke="#3a3a3a" stroke-width="0.8"/>
<ellipse cx="647.53" cy="603.83" rx="2.67" ry="3.19" fill="none" stroke="#3a3a3a" stroke-width="0.8"/>
<ellipse cx="648.95" cy="603.12" rx="2.67" ry="3.19" fill="none" stroke="#3a3a3a" stroke-width="0.8"/>
<ellipse cx="650.02" cy="602.06" rx="2.67" ry="3.19" fill="none" stroke="#3a3a3a" stroke-width="0.8"/>
<ellipse cx="650.68" cy="600.59" rx="2.67" ry="3.19" fill="none" stroke="#3a3a3a" stroke-width="0.8"/>
<ellipse cx="651.79" cy="599.56" rx="2.67" ry="3.19" fill="none" stroke="#3a3a3a" stroke-width="0.8"/>
<ellipse cx="653.16" cy="598.8" rx="2.67" ry="3.19" fill="none" stroke="#3a3a3a" stroke-width="0.8"/>
<ellipse cx="654.11" cy="597.62" rx="2.67" ry="3.19" fill="none" stroke="#3a3a3a" stroke-width="0.8"/>
<ellipse cx="655.27" cy="596.64" rx="2.67" ry="3.19" fill="none" stroke="#3a3a3a" stroke-width="0.8"/>
<ellipse cx="656.04" cy="595.28" rx="2.67" ry="3.19" fill="none" stroke="#3a3a3a" stroke-width="0.8"/>
<ellipse cx="656.97" cy="594.07" rx="2.67" ry="3.19" fill="none" stroke="#3a3a3a" stroke-width="0.8"/>
<ellipse cx="658.12" cy="593.09" rx="2.67" ry="3.19" fill="none" stroke="#3a3a3a" stroke-width="0.8"/>
<ellipse cx="659.47" cy="592.31" rx="2.67" ry="3.19" fill="none" stroke="#3a3a3a" stroke-width="0.8"/>
<ellipse cx="660.21" cy="590.91" rx="2.67" ry="3.19" fill="none" stroke="#3a3a3a" stroke-width="0.8"/>
<ellipse cx="661.31" cy="589.88" rx="2.67" ry="3.19" fill="none" stroke="#3a3a3a" stroke-width="0.8"/>
<ellipse cx="662.4" cy="588.84" rx="2.67" ry="3.19" fill="none" stroke="#3a3a3a" stroke-width="0.8"/>
<ellipse cx="663.46" cy="587.76" rx="2.67" ry="3.19" fill="none" stroke="#3a3a3a" stroke-width="0.8"/>
<ellipse cx="664.5" cy="586.68" rx="2.67" ry="3.19" fill="none" stroke="#3a3a3a" stroke-width="0.8"/>
<ellipse cx="665.86" cy="585.9" rx="2.67" ry="3.19" fill="none" stroke="#3a3a3a" stroke-width="0.8"/>
<ellipse cx="666.46" cy="584.36" rx="2.67" ry="3.19" fill="none" stroke="#3a3a3a" stroke-width="0.8"/>
<ellipse cx="667.42" cy="583.19" rx="2.67" ry="3.19" fill="none" stroke="#3a3a3a" stroke-width="0.8"/>
<ellipse cx="669.04" cy="582.67" rx="2.67" ry="3.19" fill="none" stroke="#3a3a3a" stroke-width="0.8"/>
<ellipse cx="670.05" cy="581.55" rx="2.67" ry="3.19" fill="none" stroke="#3a3a3a" stroke-width="0.8"/>
<ellipse cx="671.17" cy="580.54" rx="2.67" ry="3.19" fill="none" stroke="#3a3a3a" stroke-width="0.8"/>
<ellipse cx="671.89" cy="579.13" rx="2.67" ry="3.19" fill="none" stroke="#3a3a3a" stroke-width="0.8"/>
<ellipse cx="673.25" cy="578.35" rx="2.67" ry="3.19" fill="none" stroke="#3a3a3a" stroke-width="0.8"/>
<ellipse cx="674.29" cy="577.26" rx="2.67" ry="3.19" fill="none" stroke="#3a3a3a" stroke-width="0.8"/>
<ellipse cx="674.92" cy="575.76" rx="2.67" ry="3.19" fill="none" stroke="#3a3a3a" stroke-width="0.8"/>
<ellipse cx="676.29" cy="574.99" rx="2.67" ry="3.19" fill="none" stroke="#3a3a3a" stroke-width="0.8"/>
<ellipse cx="677.4" cy="573.96" rx="2.67" ry="3.19" fill="none" stroke="#3a3a3a" stroke-width="0.8"/>
<ellipse cx="678.34" cy="572.78" rx="2.67" ry="3.19" fill="none" stroke="#3a3a3a" stroke-width="0.8"/>
<ellipse cx="679.31" cy="571.61" rx="2.67" ry="3.19" fill="none" stroke="#3a3a3a" stroke-width="0.8"/>
<line x1="554" y1="700.2" x2="679.3" y2="571.6" stroke="#444" stroke-width="1.0" />
<line x1="554" y1="571.6" x2="679.3" y2="571.6" stroke="#777" stroke-width="1.1" />
<line x1="554" y1="700.2" x2="679.3" y2="700.2" stroke="#777" stroke-width="1.1" />
<line x1="554" y1="571.6" x2="554" y2="700.2" stroke="#aaa" stroke-width="1.1" />
<line x1="679.3" y1="571.6" x2="679.3" y2="700.2" stroke="#777" stroke-width="1.1" />
<line x1="554" y1="700.2" x2="554" y2="697.7" stroke="#666" stroke-width="0.9" />
<line x1="554" y1="571.6" x2="554" y2="574.1" stroke="#666" stroke-width="0.9" />
<line x1="579.06" y1="700.2" x2="579.06" y2="697.7" stroke="#666" stroke-width="0.9" />
<line x1="579.06" y1="571.6" x2="579.06" y2="574.1" stroke="#666" stroke-width="0.9" />
<line x1="604.12" y1="700.2" x2="604.12" y2="697.7" stroke="#666" stroke-width="0.9" />
<line x1="604.12" y1="571.6" x2="604.12" y2="574.1" stroke="#666" stroke-width="0.9" />
<line x1="629.18" y1="700.2" x2="629.18" y2="697.7" stroke="#666" stroke-width="0.9" />
<line x1="629.18" y1="571.6" x2="629.18" y2="574.1" stroke="#666" stroke-width="0.9" />
<line x1="654.24" y1="700.2" x2="654.24" y2="697.7" stroke="#666" stroke-width="0.9" />
<line x1="654.24" y1="571.6" x2="654.24" y2="574.1" stroke="#666" stroke-width="0.9" />
<line x1="679.3" y1="700.2" x2="679.3" y2="697.7" stroke="#666" stroke-width="0.9" />
<line x1="679.3" y1="571.6" x2="679.3" y2="574.1" stroke="#666" stroke-width="0.9" />
<line x1="554" y1="700.2" x2="556.5" y2="700.2" stroke="#666" stroke-width="0.9" />
<line x1="679.3" y1="700.2" x2="676.8" y2="700.2" stroke="#666" stroke-width="0.9" />
<line x1="554" y1="674.48" x2="556.5" y2="674.48" stroke="#666" stroke-width="0.9" />
<line x1="679.3" y1="674.48" x2="676.8" y2="674.48" stroke="#666" stroke-width="0.9" />
<line x1="554" y1="648.76" x2="556.5" y2="648.76" stroke="#666" stroke-width="0.9" />
<line x1="679.3" y1="648.76" x2="676.8" y2="648.76" stroke="#666" stroke-width="0.9" />
<line x1="554" y1="623.04" x2="556.5" y2="623.04" stroke="#666" stroke-width="0.9" />
<line x1="679.3" y1="623.04" x2="676.8" y2="623.04" stroke="#666" stroke-width="0.9" />
<line x1="554" y1="597.32" x2="556.5" y2="597.32" stroke="#666" stroke-width="0.9" />
<line x1="679.3" y1="597.32" x2="676.8" y2="597.32" stroke="#666" stroke-width="0.9" />
<line x1="554" y1="571.6" x2="556.5" y2="571.6" stroke="#666" stroke-width="0.9" />
<line x1="679.3" y1="571.6" x2="676.8" y2="571.6" stroke="#666" stroke-width="0.9" />
<text x="541.64" y="703.2" font-size="7.9" font-weight="normal" fill="#444" textLength="9.68" lengthAdjust="spacingAndGlyphs" style="font-family:'Liberation Sans', sans-serif" >0.3</text>
<text x="537.64" y="677.48" font-size="7.9" font-weight="normal" fill="#444" textLength="13.73" lengthAdjust="spacingAndGlyphs" style="font-family:'Liberation Sans', sans-serif" >0.32</text>
<text x="537.49" y="651.76" font-size="7.9" font-weight="normal" fill="#444" textLength="13.73" lengthAdjust="spacingAndGlyphs" style="font-family:'Liberation Sans', sans-serif" >0.34</text>
<text x="537.6" y="626.04" font-size="7.9" font-weight="normal" fill="#444" textLength="13.73" lengthAdjust="spacingAndGlyphs" style="font-family:'Liberation Sans', sans-serif" >0.36</text>
<text x="537.56" y="600.32" font-size="7.9" font-weight="normal" fill="#444" textLength="13.73" lengthAdjust="spacingAndGlyphs" style="font-family:'Liberation Sans', sans-serif" >0.38</text>
<text x="541.53" y="574.6" font-size="7.9" font-weight="normal" fill="#444" textLength="9.68" lengthAdjust="spacingAndGlyphs" style="font-family:'Liberation Sans', sans-serif" >0.4</text>
<text x="549.18" y="709.5" font-size="7.9" font-weight="normal" fill="#444" textLength="9.68" lengthAdjust="spacingAndGlyphs" style="font-family:'Liberation Sans', sans-serif" >0.3</text>
<text x="572.24" y="709.5" font-size="7.9" font-weight="normal" fill="#444" textLength="13.73" lengthAdjust="spacingAndGlyphs" style="font-family:'Liberation Sans', sans-serif" >0.32</text>
<text x="597.22" y="709.5" font-size="7.9" font-weight="normal" fill="#444" textLength="13.73" lengthAdjust="spacingAndGlyphs" style="font-family:'Liberation Sans', sans-serif" >0.34</text>
<text x="622.34" y="709.5" font-size="7.9" font-weight="normal" fill="#444" textLength="13.73" lengthAdjust="spacingAndGlyphs" style="font-family:'Liberation Sans', sans-serif" >0.36</text>
<text x="647.38" y="709.5" font-size="7.9" font-weight="normal" fill="#444" textLength="13.73" lengthAdjust="spacingAndGlyphs" style="font-family:'Liberation Sans', sans-serif" >0.38</text>
<text x="674.42" y="709.5" font-size="7.9" font-weight="normal" fill="#444" textLength="9.68" lengthAdjust="spacingAndGlyphs" style="font-family:'Liberation Sans', sans-serif" >0.4</text>
<text x="600.6" y="565.3" font-size="9.0" font-weight="bold" fill="#111" textLength="30.11" lengthAdjust="spacingAndGlyphs" style="font-family:'Liberation Sans', sans-serif" >All: R=1</text>
<text x="603.86" y="719.7" font-size="9.0" font-weight="bold" fill="#111" textLength="25.59" lengthAdjust="spacingAndGlyphs" style="font-family:'Liberation Sans', sans-serif" >Target</text>
<text transform="translate(532.2,695.3) scale(0.9,1) rotate(-90)" x="-0.35" y="0" font-size="9.0" font-weight="bold" fill="#111" textLength="117.15" lengthAdjust="spacingAndGlyphs">Output ~= 1*Target + 1.5e-05</text>
<rect x="557.2" y="574.9" width="48.4" height="33.1" fill="#fff" stroke="#333" stroke-width="1" />
<circle cx="572.5" cy="581.3" r="2.4" fill="none" stroke="#333" stroke-width="0.8"/>
<line x1="561.6" y1="590.9" x2="583.3" y2="590.9" stroke="#444" stroke-width="1.3" />
<line x1="561.6" y1="601.4" x2="583.3" y2="601.4" stroke="#888" stroke-width="0.9" stroke-dasharray="1 1.6"/>
<text x="585.67" y="583.9" font-size="7.8" font-weight="normal" fill="#333" textLength="13.94" lengthAdjust="spacingAndGlyphs" style="font-family:'Liberation Sans', sans-serif" >Data</text>
<text x="585.68" y="594.4" font-size="7.8" font-weight="normal" fill="#333" textLength="7.15" lengthAdjust="spacingAndGlyphs" style="font-family:'Liberation Sans', sans-serif" >Fit</text>
<text x="586.02" y="604.4" font-size="7.8" font-weight="normal" fill="#333" textLength="16.93" lengthAdjust="spacingAndGlyphs" style="font-family:'Liberation Sans', sans-serif" >Y = T</text>
<text x="17.23" y="345.4" font-size="16.5" fill="#111" textLength="280.63" lengthAdjust="spacingAndGlyphs" style="font-family:'Liberation Serif', serif"><tspan font-weight="bold">(a)</tspan> MSE outcomes for scenario 2: case 4</text>
<text x="367.23" y="345.4" font-size="16.5" fill="#111" textLength="278.89" lengthAdjust="spacingAndGlyphs" style="font-family:'Liberation Serif', serif"><tspan font-weight="bold">(b)</tspan> State transition for scenario 2: case 4</text>
<text x="15.52" y="754.1" font-size="16.5" fill="#111" textLength="284.14" lengthAdjust="spacingAndGlyphs" style="font-family:'Liberation Serif', serif"><tspan font-weight="bold">(c)</tspan> Error histogram for scenario 2: case 4</text>
<text x="356.62" y="754.1" font-size="16.5" fill="#111" textLength="302.05" lengthAdjust="spacingAndGlyphs" style="font-family:'Liberation Serif', serif"><tspan font-weight="bold">(d)</tspan> Regression results for scenario 2: case 4</text>
</svg>
</body></html>
